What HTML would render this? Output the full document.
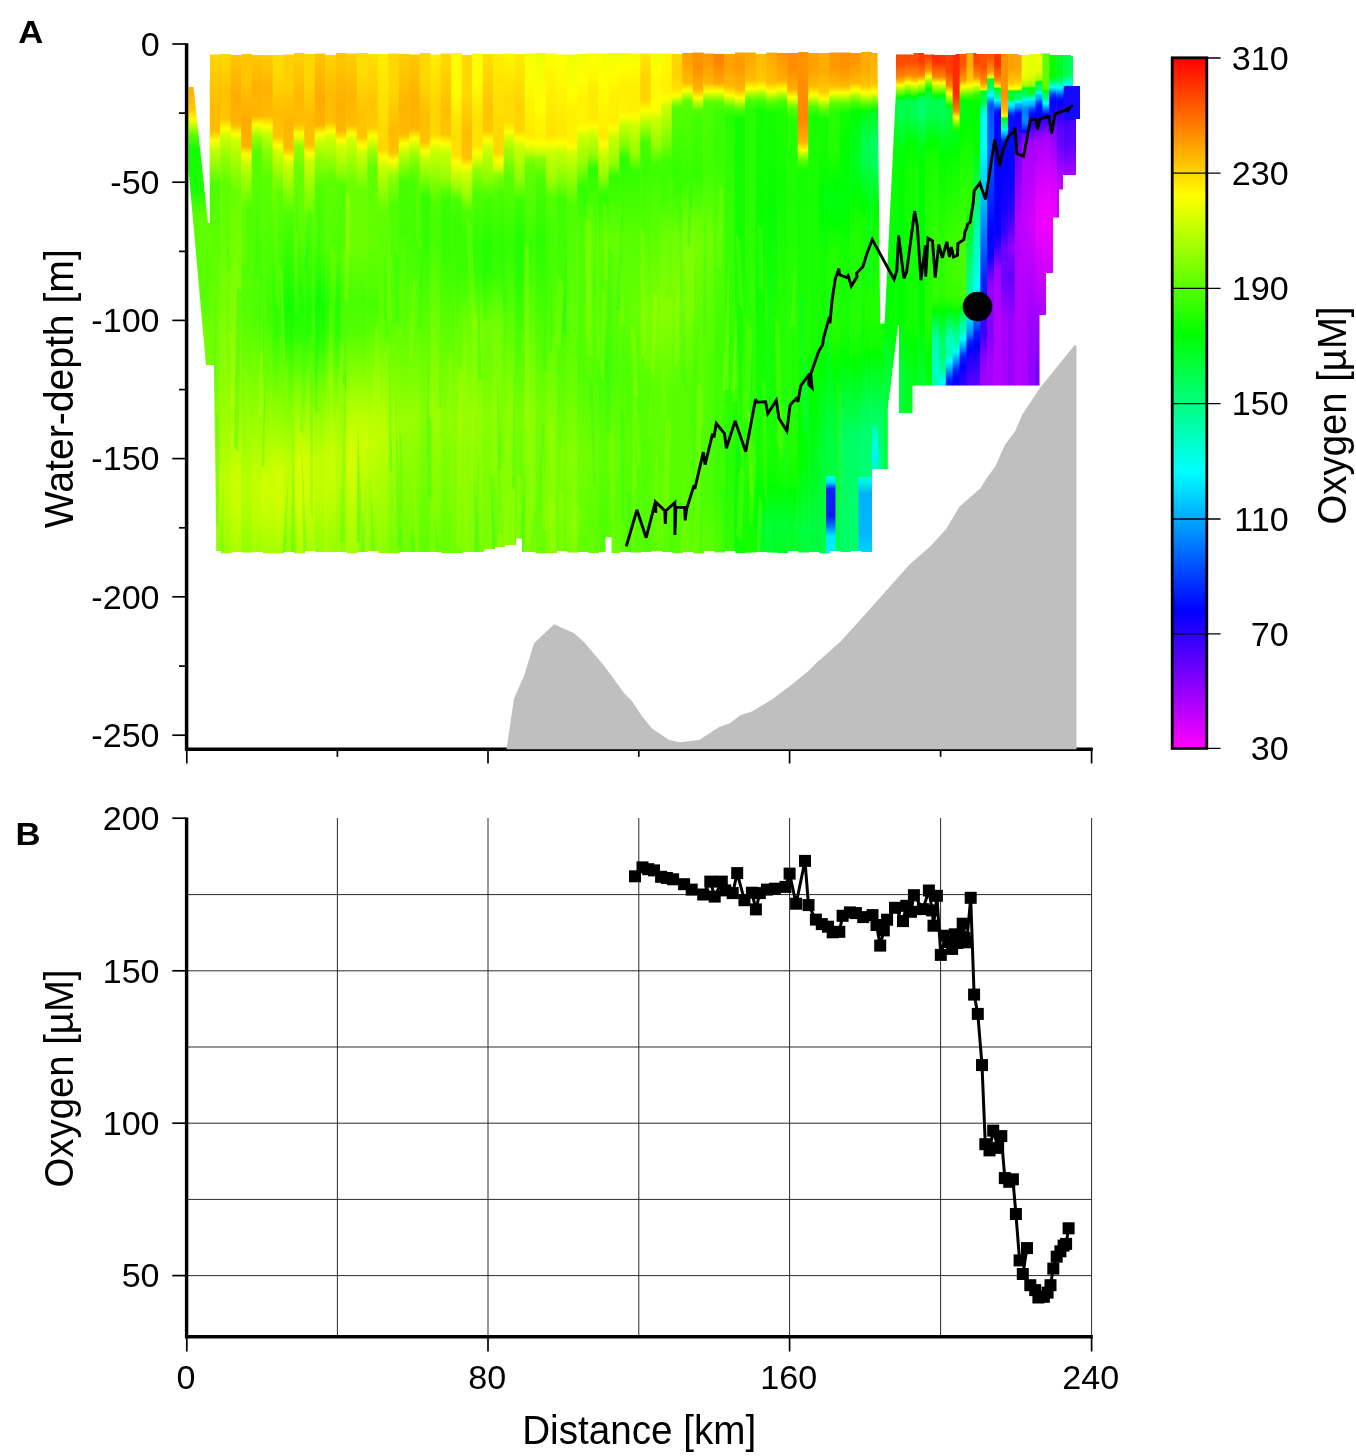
<!DOCTYPE html>
<html lang="en"><head><meta charset="utf-8"><title>Oxygen section</title>
<style>html,body{margin:0;padding:0;background:#fff;overflow:hidden}svg{display:block}text{fill:#000}</style></head>
<body>
<svg width="1356" height="1456" viewBox="0 0 1356 1456">
<defs><linearGradient id="c0" x1="0" y1="0" x2="0" y2="1"><stop offset="0.0000" stop-color="#ffd700"/><stop offset="0.1126" stop-color="#ffbb00"/><stop offset="0.1601" stop-color="#ffc000"/><stop offset="0.1793" stop-color="#ffff00"/><stop offset="0.1957" stop-color="#c9ff00"/><stop offset="0.2668" stop-color="#50ff00"/><stop offset="0.6522" stop-color="#78ff00"/><stop offset="0.8478" stop-color="#a9ff00"/><stop offset="0.9130" stop-color="#a4ff00"/><stop offset="0.9960" stop-color="#89ff00"/></linearGradient><linearGradient id="c1" x1="0" y1="0" x2="0" y2="1"><stop offset="0.0000" stop-color="#ffdd00"/><stop offset="0.0830" stop-color="#ffc100"/><stop offset="0.1364" stop-color="#ffc500"/><stop offset="0.1551" stop-color="#ffff00"/><stop offset="0.1719" stop-color="#caff00"/><stop offset="0.2194" stop-color="#8aff00"/><stop offset="0.2668" stop-color="#5cff00"/><stop offset="0.6522" stop-color="#87ff00"/><stop offset="0.8478" stop-color="#baff00"/><stop offset="0.9130" stop-color="#b5ff00"/><stop offset="0.9960" stop-color="#98ff00"/></linearGradient><linearGradient id="c2" x1="0" y1="0" x2="0" y2="1"><stop offset="0.0000" stop-color="#ffc800"/><stop offset="0.0889" stop-color="#ffad00"/><stop offset="0.1423" stop-color="#ffb200"/><stop offset="0.1482" stop-color="#ffb700"/><stop offset="0.1661" stop-color="#ffff00"/><stop offset="0.1779" stop-color="#d0ff00"/><stop offset="0.2787" stop-color="#69ff00"/><stop offset="0.6344" stop-color="#8eff00"/><stop offset="0.8478" stop-color="#caff00"/><stop offset="0.9130" stop-color="#c6ff00"/><stop offset="0.9960" stop-color="#a7ff00"/></linearGradient><linearGradient id="c3" x1="0" y1="0" x2="0" y2="1"><stop offset="0.0000" stop-color="#ffc600"/><stop offset="0.0652" stop-color="#ffc500"/><stop offset="0.1364" stop-color="#ffab00"/><stop offset="0.1897" stop-color="#ffb100"/><stop offset="0.2070" stop-color="#ffff00"/><stop offset="0.2075" stop-color="#fdff00"/><stop offset="0.2253" stop-color="#c8ff00"/><stop offset="0.3142" stop-color="#4eff00"/><stop offset="0.5336" stop-color="#56ff00"/><stop offset="0.8478" stop-color="#b4ff00"/><stop offset="0.9130" stop-color="#afff00"/><stop offset="0.9960" stop-color="#8fff00"/></linearGradient><linearGradient id="c4" x1="0" y1="0" x2="0" y2="1"><stop offset="0.0000" stop-color="#ffcb00"/><stop offset="0.0711" stop-color="#ffb100"/><stop offset="0.1304" stop-color="#ffb600"/><stop offset="0.1477" stop-color="#ffff00"/><stop offset="0.1719" stop-color="#98ff00"/><stop offset="0.2016" stop-color="#55ff00"/><stop offset="0.5277" stop-color="#4eff00"/><stop offset="0.8538" stop-color="#c6ff00"/><stop offset="0.9130" stop-color="#c1ff00"/><stop offset="0.9960" stop-color="#9eff00"/></linearGradient><linearGradient id="c5" x1="0" y1="0" x2="0" y2="1"><stop offset="0.0000" stop-color="#ffcf00"/><stop offset="0.0771" stop-color="#ffb400"/><stop offset="0.1304" stop-color="#ffb900"/><stop offset="0.1504" stop-color="#ffff00"/><stop offset="0.1660" stop-color="#c8ff00"/><stop offset="0.1957" stop-color="#91ff00"/><stop offset="0.2490" stop-color="#5aff00"/><stop offset="0.5336" stop-color="#3fff00"/><stop offset="0.8478" stop-color="#ceff00"/><stop offset="0.9071" stop-color="#c8ff00"/><stop offset="0.9960" stop-color="#a2ff00"/></linearGradient><linearGradient id="c6" x1="0" y1="0" x2="0" y2="1"><stop offset="0.0000" stop-color="#ffdb00"/><stop offset="0.0474" stop-color="#ffd900"/><stop offset="0.1245" stop-color="#ffbe00"/><stop offset="0.1719" stop-color="#ffc500"/><stop offset="0.1884" stop-color="#ffff00"/><stop offset="0.2016" stop-color="#d1ff00"/><stop offset="0.2846" stop-color="#5bff00"/><stop offset="0.5040" stop-color="#2dff00"/><stop offset="0.5692" stop-color="#3aff00"/><stop offset="0.8300" stop-color="#cfff00"/><stop offset="0.8953" stop-color="#ceff00"/><stop offset="0.9960" stop-color="#a2ff00"/></linearGradient><linearGradient id="c7" x1="0" y1="0" x2="0" y2="1"><stop offset="0.0000" stop-color="#ffd100"/><stop offset="0.0711" stop-color="#ffcf00"/><stop offset="0.1423" stop-color="#ffb500"/><stop offset="0.1897" stop-color="#ffba00"/><stop offset="0.1957" stop-color="#ffbf00"/><stop offset="0.2127" stop-color="#ffff00"/><stop offset="0.2253" stop-color="#d0ff00"/><stop offset="0.3261" stop-color="#4cff00"/><stop offset="0.5040" stop-color="#13ff00"/><stop offset="0.5632" stop-color="#1eff00"/><stop offset="0.6877" stop-color="#78ff00"/><stop offset="0.8241" stop-color="#c2ff00"/><stop offset="0.8893" stop-color="#c2ff00"/><stop offset="0.9960" stop-color="#94ff00"/></linearGradient><linearGradient id="c8" x1="0" y1="0" x2="0" y2="1"><stop offset="0.0000" stop-color="#ffd300"/><stop offset="0.0889" stop-color="#ffb800"/><stop offset="0.1423" stop-color="#ffbc00"/><stop offset="0.1482" stop-color="#ffc200"/><stop offset="0.1647" stop-color="#ffff00"/><stop offset="0.1779" stop-color="#ceff00"/><stop offset="0.1897" stop-color="#93ff00"/><stop offset="0.2372" stop-color="#67ff00"/><stop offset="0.3735" stop-color="#57ff00"/><stop offset="0.5099" stop-color="#21ff00"/><stop offset="0.5573" stop-color="#2cff00"/><stop offset="0.6818" stop-color="#8bff00"/><stop offset="0.8182" stop-color="#d7ff00"/><stop offset="0.8834" stop-color="#d6ff00"/><stop offset="0.9960" stop-color="#a8ff00"/></linearGradient><linearGradient id="c9" x1="0" y1="0" x2="0" y2="1"><stop offset="0.0000" stop-color="#ffd700"/><stop offset="0.0652" stop-color="#ffd500"/><stop offset="0.1364" stop-color="#ffbb00"/><stop offset="0.1838" stop-color="#ffbf00"/><stop offset="0.1897" stop-color="#ffc800"/><stop offset="0.2051" stop-color="#ffff00"/><stop offset="0.2194" stop-color="#ccff00"/><stop offset="0.3320" stop-color="#5dff00"/><stop offset="0.5099" stop-color="#1fff00"/><stop offset="0.5573" stop-color="#2bff00"/><stop offset="0.6759" stop-color="#87ff00"/><stop offset="0.8123" stop-color="#d1ff00"/><stop offset="0.8775" stop-color="#d1ff00"/><stop offset="0.9960" stop-color="#a3ff00"/></linearGradient><linearGradient id="c10" x1="0" y1="0" x2="0" y2="1"><stop offset="0.0000" stop-color="#ffc600"/><stop offset="0.0949" stop-color="#ffab00"/><stop offset="0.1482" stop-color="#ffb100"/><stop offset="0.1654" stop-color="#ffff00"/><stop offset="0.1660" stop-color="#fcff00"/><stop offset="0.1838" stop-color="#c7ff00"/><stop offset="0.2134" stop-color="#93ff00"/><stop offset="0.2727" stop-color="#51ff00"/><stop offset="0.3913" stop-color="#45ff00"/><stop offset="0.5040" stop-color="#15ff00"/><stop offset="0.5573" stop-color="#21ff00"/><stop offset="0.6700" stop-color="#77ff00"/><stop offset="0.8063" stop-color="#bfff00"/><stop offset="0.8715" stop-color="#beff00"/><stop offset="0.9960" stop-color="#92ff00"/></linearGradient><linearGradient id="c11" x1="0" y1="0" x2="0" y2="1"><stop offset="0.0000" stop-color="#ffd700"/><stop offset="0.0889" stop-color="#ffbb00"/><stop offset="0.1423" stop-color="#ffc000"/><stop offset="0.1598" stop-color="#ffff00"/><stop offset="0.1719" stop-color="#d3ff00"/><stop offset="0.2549" stop-color="#5dff00"/><stop offset="0.3972" stop-color="#51ff00"/><stop offset="0.5040" stop-color="#25ff00"/><stop offset="0.5573" stop-color="#32ff00"/><stop offset="0.6640" stop-color="#7fff00"/><stop offset="0.7945" stop-color="#c4ff00"/><stop offset="0.8656" stop-color="#c3ff00"/><stop offset="0.9960" stop-color="#97ff00"/></linearGradient><linearGradient id="c12" x1="0" y1="0" x2="0" y2="1"><stop offset="0.0000" stop-color="#ffca00"/><stop offset="0.1067" stop-color="#ffaf00"/><stop offset="0.1601" stop-color="#ffb500"/><stop offset="0.1790" stop-color="#ffff00"/><stop offset="0.1897" stop-color="#d5ff00"/><stop offset="0.2431" stop-color="#8eff00"/><stop offset="0.2668" stop-color="#54ff00"/><stop offset="0.3972" stop-color="#4dff00"/><stop offset="0.4980" stop-color="#24ff00"/><stop offset="0.5573" stop-color="#30ff00"/><stop offset="0.7174" stop-color="#99ff00"/><stop offset="0.7885" stop-color="#b8ff00"/><stop offset="0.8538" stop-color="#b7ff00"/><stop offset="0.9960" stop-color="#8bff00"/></linearGradient><linearGradient id="c13" x1="0" y1="0" x2="0" y2="1"><stop offset="0.0000" stop-color="#ffd100"/><stop offset="0.0949" stop-color="#ffb500"/><stop offset="0.1482" stop-color="#ffbc00"/><stop offset="0.1659" stop-color="#ffff00"/><stop offset="0.1779" stop-color="#d2ff00"/><stop offset="0.2609" stop-color="#6cff00"/><stop offset="0.3913" stop-color="#6dff00"/><stop offset="0.4980" stop-color="#46ff00"/><stop offset="0.5573" stop-color="#52ff00"/><stop offset="0.7174" stop-color="#b7ff00"/><stop offset="0.7826" stop-color="#d2ff00"/><stop offset="0.8419" stop-color="#cfff00"/><stop offset="0.9960" stop-color="#a3ff00"/></linearGradient><linearGradient id="c14" x1="0" y1="0" x2="0" y2="1"><stop offset="0.0000" stop-color="#ffde00"/><stop offset="0.0474" stop-color="#ffdd00"/><stop offset="0.1245" stop-color="#ffc200"/><stop offset="0.1719" stop-color="#ffc700"/><stop offset="0.1884" stop-color="#ffff00"/><stop offset="0.2016" stop-color="#d2ff00"/><stop offset="0.2787" stop-color="#69ff00"/><stop offset="0.3854" stop-color="#6cff00"/><stop offset="0.4980" stop-color="#47ff00"/><stop offset="0.5573" stop-color="#54ff00"/><stop offset="0.7174" stop-color="#b6ff00"/><stop offset="0.7767" stop-color="#ccff00"/><stop offset="0.9960" stop-color="#9cff00"/></linearGradient><linearGradient id="c15" x1="0" y1="0" x2="0" y2="1"><stop offset="0.0000" stop-color="#ffe200"/><stop offset="0.1008" stop-color="#ffc600"/><stop offset="0.1482" stop-color="#ffc900"/><stop offset="0.1542" stop-color="#ffce00"/><stop offset="0.1693" stop-color="#ffff00"/><stop offset="0.2016" stop-color="#98ff00"/><stop offset="0.2372" stop-color="#5fff00"/><stop offset="0.3794" stop-color="#63ff00"/><stop offset="0.5158" stop-color="#47ff00"/><stop offset="0.7233" stop-color="#b3ff00"/><stop offset="0.7767" stop-color="#c1ff00"/><stop offset="0.9960" stop-color="#90ff00"/></linearGradient><linearGradient id="c16" x1="0" y1="0" x2="0" y2="1"><stop offset="0.0000" stop-color="#fff000"/><stop offset="0.1957" stop-color="#ffd500"/><stop offset="0.2114" stop-color="#ffff00"/><stop offset="0.2312" stop-color="#caff00"/><stop offset="0.3202" stop-color="#60ff00"/><stop offset="0.5217" stop-color="#55ff00"/><stop offset="0.7115" stop-color="#afff00"/><stop offset="0.7648" stop-color="#bcff00"/><stop offset="0.9960" stop-color="#8cff00"/></linearGradient><linearGradient id="c17" x1="0" y1="0" x2="0" y2="1"><stop offset="0.0000" stop-color="#ffd800"/><stop offset="0.0771" stop-color="#ffd700"/><stop offset="0.1542" stop-color="#ffbc00"/><stop offset="0.2016" stop-color="#ffc100"/><stop offset="0.2186" stop-color="#ffff00"/><stop offset="0.2490" stop-color="#90ff00"/><stop offset="0.3083" stop-color="#4eff00"/><stop offset="0.5336" stop-color="#56ff00"/><stop offset="0.7470" stop-color="#a7ff00"/><stop offset="0.9960" stop-color="#79ff00"/></linearGradient><linearGradient id="c18" x1="0" y1="0" x2="0" y2="1"><stop offset="0.0000" stop-color="#ffd000"/><stop offset="0.1126" stop-color="#ffb500"/><stop offset="0.1660" stop-color="#ffba00"/><stop offset="0.1853" stop-color="#ffff00"/><stop offset="0.2016" stop-color="#c5ff00"/><stop offset="0.2609" stop-color="#46ff00"/><stop offset="0.3735" stop-color="#41ff00"/><stop offset="0.5455" stop-color="#5aff00"/><stop offset="0.7352" stop-color="#99ff00"/><stop offset="0.9960" stop-color="#6dff00"/></linearGradient><linearGradient id="c19" x1="0" y1="0" x2="0" y2="1"><stop offset="0.0000" stop-color="#ffcb00"/><stop offset="0.1008" stop-color="#ffb000"/><stop offset="0.1542" stop-color="#ffb500"/><stop offset="0.1601" stop-color="#ffc100"/><stop offset="0.1745" stop-color="#ffff00"/><stop offset="0.1779" stop-color="#f1ff00"/><stop offset="0.2075" stop-color="#99ff00"/><stop offset="0.2549" stop-color="#48ff00"/><stop offset="0.3735" stop-color="#41ff00"/><stop offset="0.5751" stop-color="#67ff00"/><stop offset="0.7233" stop-color="#96ff00"/><stop offset="0.9960" stop-color="#6cff00"/></linearGradient><linearGradient id="c20" x1="0" y1="0" x2="0" y2="1"><stop offset="0.0000" stop-color="#ffd900"/><stop offset="0.0593" stop-color="#ffd700"/><stop offset="0.1304" stop-color="#ffbd00"/><stop offset="0.1779" stop-color="#ffc100"/><stop offset="0.1838" stop-color="#ffca00"/><stop offset="0.1990" stop-color="#ffff00"/><stop offset="0.2134" stop-color="#ccff00"/><stop offset="0.2905" stop-color="#35ff00"/><stop offset="0.3735" stop-color="#32ff00"/><stop offset="0.7233" stop-color="#85ff00"/><stop offset="0.9960" stop-color="#5eff00"/></linearGradient><linearGradient id="c21" x1="0" y1="0" x2="0" y2="1"><stop offset="0.0000" stop-color="#fff200"/><stop offset="0.1186" stop-color="#ffd400"/><stop offset="0.1660" stop-color="#ffd700"/><stop offset="0.1810" stop-color="#ffff00"/><stop offset="0.2016" stop-color="#c8ff00"/><stop offset="0.3083" stop-color="#49ff00"/><stop offset="0.3794" stop-color="#48ff00"/><stop offset="0.7233" stop-color="#9bff00"/><stop offset="0.9960" stop-color="#76ff00"/></linearGradient><linearGradient id="c22" x1="0" y1="0" x2="0" y2="1"><stop offset="0.0000" stop-color="#ffdb00"/><stop offset="0.1186" stop-color="#ffbf00"/><stop offset="0.1660" stop-color="#ffc300"/><stop offset="0.1848" stop-color="#ffff00"/><stop offset="0.2016" stop-color="#caff00"/><stop offset="0.2549" stop-color="#95ff00"/><stop offset="0.2846" stop-color="#47ff00"/><stop offset="0.3024" stop-color="#39ff00"/><stop offset="0.4032" stop-color="#37ff00"/><stop offset="0.7292" stop-color="#88ff00"/><stop offset="0.9960" stop-color="#67ff00"/></linearGradient><linearGradient id="c23" x1="0" y1="0" x2="0" y2="1"><stop offset="0.0000" stop-color="#fffd00"/><stop offset="0.0830" stop-color="#fffc00"/><stop offset="0.1601" stop-color="#ffdf00"/><stop offset="0.2075" stop-color="#ffe000"/><stop offset="0.2220" stop-color="#ffff00"/><stop offset="0.2727" stop-color="#92ff00"/><stop offset="0.2964" stop-color="#47ff00"/><stop offset="0.3439" stop-color="#36ff00"/><stop offset="0.4387" stop-color="#3aff00"/><stop offset="0.7292" stop-color="#8cff00"/><stop offset="0.9960" stop-color="#6fff00"/></linearGradient><linearGradient id="c24" x1="0" y1="0" x2="0" y2="1"><stop offset="0.0000" stop-color="#ffd900"/><stop offset="0.0889" stop-color="#ffd800"/><stop offset="0.1660" stop-color="#ffbd00"/><stop offset="0.2134" stop-color="#ffc200"/><stop offset="0.2306" stop-color="#ffff00"/><stop offset="0.2431" stop-color="#d3ff00"/><stop offset="0.2905" stop-color="#93ff00"/><stop offset="0.3202" stop-color="#4cff00"/><stop offset="0.3676" stop-color="#3aff00"/><stop offset="0.4328" stop-color="#3bff00"/><stop offset="0.5395" stop-color="#6bff00"/><stop offset="0.7233" stop-color="#96ff00"/><stop offset="0.9960" stop-color="#7dff00"/></linearGradient><linearGradient id="c25" x1="0" y1="0" x2="0" y2="1"><stop offset="0.0000" stop-color="#fffe00"/><stop offset="0.0652" stop-color="#fffd00"/><stop offset="0.1423" stop-color="#ffe000"/><stop offset="0.1897" stop-color="#ffe400"/><stop offset="0.2024" stop-color="#ffff00"/><stop offset="0.2075" stop-color="#f4ff00"/><stop offset="0.2372" stop-color="#92ff00"/><stop offset="0.2846" stop-color="#4dff00"/><stop offset="0.3854" stop-color="#31ff00"/><stop offset="0.4447" stop-color="#39ff00"/><stop offset="0.5395" stop-color="#75ff00"/><stop offset="0.6166" stop-color="#76ff00"/><stop offset="0.7174" stop-color="#92ff00"/><stop offset="0.9960" stop-color="#7dff00"/></linearGradient><linearGradient id="c26" x1="0" y1="0" x2="0" y2="1"><stop offset="0.0000" stop-color="#ffe200"/><stop offset="0.1126" stop-color="#ffc500"/><stop offset="0.1601" stop-color="#ffc900"/><stop offset="0.1782" stop-color="#ffff00"/><stop offset="0.1957" stop-color="#cbff00"/><stop offset="0.2490" stop-color="#91ff00"/><stop offset="0.2905" stop-color="#47ff00"/><stop offset="0.3794" stop-color="#27ff00"/><stop offset="0.4387" stop-color="#2dff00"/><stop offset="0.5395" stop-color="#6fff00"/><stop offset="0.6166" stop-color="#6dff00"/><stop offset="0.7174" stop-color="#86ff00"/><stop offset="0.9960" stop-color="#75ff00"/></linearGradient><linearGradient id="c27" x1="0" y1="0" x2="0" y2="1"><stop offset="0.0000" stop-color="#ffee00"/><stop offset="0.2016" stop-color="#ffd400"/><stop offset="0.2179" stop-color="#ffff00"/><stop offset="0.2312" stop-color="#dcff00"/><stop offset="0.2490" stop-color="#89ff00"/><stop offset="0.2787" stop-color="#51ff00"/><stop offset="0.3794" stop-color="#31ff00"/><stop offset="0.4387" stop-color="#37ff00"/><stop offset="0.5395" stop-color="#70ff00"/><stop offset="0.7115" stop-color="#8dff00"/><stop offset="0.9960" stop-color="#7fff00"/></linearGradient><linearGradient id="c28" x1="0" y1="0" x2="0" y2="1"><stop offset="0.0000" stop-color="#fff900"/><stop offset="0.0949" stop-color="#ffdc00"/><stop offset="0.1423" stop-color="#ffdd00"/><stop offset="0.1601" stop-color="#fffc00"/><stop offset="0.1609" stop-color="#ffff00"/><stop offset="0.1779" stop-color="#caff00"/><stop offset="0.2016" stop-color="#99ff00"/><stop offset="0.2490" stop-color="#5aff00"/><stop offset="0.3854" stop-color="#33ff00"/><stop offset="0.7115" stop-color="#8cff00"/><stop offset="0.9960" stop-color="#80ff00"/></linearGradient><linearGradient id="c29" x1="0" y1="0" x2="0" y2="1"><stop offset="0.0000" stop-color="#ffef00"/><stop offset="0.1126" stop-color="#ffd200"/><stop offset="0.1601" stop-color="#ffd700"/><stop offset="0.1738" stop-color="#ffff00"/><stop offset="0.1897" stop-color="#d0ff00"/><stop offset="0.2549" stop-color="#8eff00"/><stop offset="0.2964" stop-color="#40ff00"/><stop offset="0.3794" stop-color="#22ff00"/><stop offset="0.4328" stop-color="#25ff00"/><stop offset="0.7174" stop-color="#77ff00"/><stop offset="0.9960" stop-color="#6bff00"/></linearGradient><linearGradient id="c30" x1="0" y1="0" x2="0" y2="1"><stop offset="0.0000" stop-color="#f6ff00"/><stop offset="0.0476" stop-color="#ffff00"/><stop offset="0.1660" stop-color="#ffe900"/><stop offset="0.1838" stop-color="#ffff00"/><stop offset="0.1839" stop-color="#ffff00"/><stop offset="0.1957" stop-color="#daff00"/><stop offset="0.2134" stop-color="#89ff00"/><stop offset="0.2312" stop-color="#63ff00"/><stop offset="0.3854" stop-color="#3dff00"/><stop offset="0.7174" stop-color="#8dff00"/><stop offset="0.9960" stop-color="#81ff00"/></linearGradient><linearGradient id="c31" x1="0" y1="0" x2="0" y2="1"><stop offset="0.0000" stop-color="#ecff00"/><stop offset="0.1046" stop-color="#ffff00"/><stop offset="0.1719" stop-color="#fff300"/><stop offset="0.1813" stop-color="#ffff00"/><stop offset="0.1897" stop-color="#f4ff00"/><stop offset="0.2016" stop-color="#ceff00"/><stop offset="0.2134" stop-color="#8dff00"/><stop offset="0.2549" stop-color="#48ff00"/><stop offset="0.3794" stop-color="#2aff00"/><stop offset="0.7233" stop-color="#74ff00"/><stop offset="0.9960" stop-color="#69ff00"/></linearGradient><linearGradient id="c32" x1="0" y1="0" x2="0" y2="1"><stop offset="0.0000" stop-color="#feff00"/><stop offset="0.0058" stop-color="#ffff00"/><stop offset="0.1660" stop-color="#ffe300"/><stop offset="0.1838" stop-color="#fffc00"/><stop offset="0.1847" stop-color="#ffff00"/><stop offset="0.2016" stop-color="#ccff00"/><stop offset="0.2609" stop-color="#94ff00"/><stop offset="0.2905" stop-color="#54ff00"/><stop offset="0.3676" stop-color="#46ff00"/><stop offset="0.4447" stop-color="#49ff00"/><stop offset="0.7530" stop-color="#88ff00"/><stop offset="0.9960" stop-color="#7aff00"/></linearGradient><linearGradient id="c33" x1="0" y1="0" x2="0" y2="1"><stop offset="0.0000" stop-color="#fbff00"/><stop offset="0.0242" stop-color="#ffff00"/><stop offset="0.1660" stop-color="#ffe600"/><stop offset="0.1817" stop-color="#ffff00"/><stop offset="0.1838" stop-color="#fcff00"/><stop offset="0.2016" stop-color="#c8ff00"/><stop offset="0.2490" stop-color="#8eff00"/><stop offset="0.2964" stop-color="#3eff00"/><stop offset="0.5217" stop-color="#48ff00"/><stop offset="0.8063" stop-color="#78ff00"/><stop offset="0.9960" stop-color="#65ff00"/></linearGradient><linearGradient id="c34" x1="0" y1="0" x2="0" y2="1"><stop offset="0.0000" stop-color="#f0ff00"/><stop offset="0.0534" stop-color="#f2ff00"/><stop offset="0.0889" stop-color="#ffff00"/><stop offset="0.1304" stop-color="#ffef00"/><stop offset="0.1779" stop-color="#fff200"/><stop offset="0.1897" stop-color="#fffe00"/><stop offset="0.1902" stop-color="#ffff00"/><stop offset="0.2075" stop-color="#cbff00"/><stop offset="0.3083" stop-color="#4cff00"/><stop offset="0.6107" stop-color="#62ff00"/><stop offset="0.8063" stop-color="#85ff00"/><stop offset="0.9960" stop-color="#71ff00"/></linearGradient><linearGradient id="c35" x1="0" y1="0" x2="0" y2="1"><stop offset="0.0000" stop-color="#ecff00"/><stop offset="0.0591" stop-color="#ffff00"/><stop offset="0.0949" stop-color="#fff300"/><stop offset="0.1423" stop-color="#fff400"/><stop offset="0.1542" stop-color="#fffd00"/><stop offset="0.1548" stop-color="#ffff00"/><stop offset="0.1719" stop-color="#ceff00"/><stop offset="0.2253" stop-color="#93ff00"/><stop offset="0.2727" stop-color="#32ff00"/><stop offset="0.3794" stop-color="#55ff00"/><stop offset="0.6285" stop-color="#4fff00"/><stop offset="0.8004" stop-color="#71ff00"/><stop offset="0.9960" stop-color="#60ff00"/></linearGradient><linearGradient id="c36" x1="0" y1="0" x2="0" y2="1"><stop offset="0.0000" stop-color="#f6ff00"/><stop offset="0.0275" stop-color="#ffff00"/><stop offset="0.0889" stop-color="#ffea00"/><stop offset="0.1364" stop-color="#ffeb00"/><stop offset="0.1482" stop-color="#fffb00"/><stop offset="0.1498" stop-color="#ffff00"/><stop offset="0.1719" stop-color="#c5ff00"/><stop offset="0.2075" stop-color="#92ff00"/><stop offset="0.2312" stop-color="#39ff00"/><stop offset="0.2372" stop-color="#2fff00"/><stop offset="0.3794" stop-color="#61ff00"/><stop offset="0.6285" stop-color="#4eff00"/><stop offset="0.8004" stop-color="#70ff00"/><stop offset="0.9427" stop-color="#5cff00"/><stop offset="0.9960" stop-color="#63ff00"/></linearGradient><linearGradient id="c37" x1="0" y1="0" x2="0" y2="1"><stop offset="0.0000" stop-color="#f4ff00"/><stop offset="0.0618" stop-color="#ffff00"/><stop offset="0.1719" stop-color="#ffec00"/><stop offset="0.1843" stop-color="#ffff00"/><stop offset="0.1897" stop-color="#f7ff00"/><stop offset="0.2075" stop-color="#c6ff00"/><stop offset="0.2490" stop-color="#93ff00"/><stop offset="0.2846" stop-color="#34ff00"/><stop offset="0.2905" stop-color="#31ff00"/><stop offset="0.3794" stop-color="#5aff00"/><stop offset="0.6285" stop-color="#41ff00"/><stop offset="0.7945" stop-color="#60ff00"/><stop offset="0.9368" stop-color="#4eff00"/><stop offset="0.9960" stop-color="#57ff00"/></linearGradient><linearGradient id="c38" x1="0" y1="0" x2="0" y2="1"><stop offset="0.0000" stop-color="#f0ff00"/><stop offset="0.0468" stop-color="#ffff00"/><stop offset="0.0949" stop-color="#ffef00"/><stop offset="0.1423" stop-color="#fff200"/><stop offset="0.1542" stop-color="#fffd00"/><stop offset="0.1547" stop-color="#ffff00"/><stop offset="0.1719" stop-color="#ccff00"/><stop offset="0.2253" stop-color="#91ff00"/><stop offset="0.2490" stop-color="#36ff00"/><stop offset="0.2549" stop-color="#31ff00"/><stop offset="0.3735" stop-color="#64ff00"/><stop offset="0.6344" stop-color="#4eff00"/><stop offset="0.7885" stop-color="#66ff00"/><stop offset="0.9308" stop-color="#58ff00"/><stop offset="0.9960" stop-color="#62ff00"/></linearGradient><linearGradient id="c39" x1="0" y1="0" x2="0" y2="1"><stop offset="0.0000" stop-color="#f2ff00"/><stop offset="0.0327" stop-color="#ffff00"/><stop offset="0.0711" stop-color="#fff000"/><stop offset="0.1186" stop-color="#fff400"/><stop offset="0.1304" stop-color="#ffff00"/><stop offset="0.1305" stop-color="#ffff00"/><stop offset="0.1482" stop-color="#c9ff00"/><stop offset="0.1838" stop-color="#89ff00"/><stop offset="0.2134" stop-color="#34ff00"/><stop offset="0.2312" stop-color="#30ff00"/><stop offset="0.3794" stop-color="#5cff00"/><stop offset="0.5277" stop-color="#5dff00"/><stop offset="0.6403" stop-color="#4dff00"/><stop offset="0.7885" stop-color="#5dff00"/><stop offset="0.9960" stop-color="#5aff00"/></linearGradient><linearGradient id="c40" x1="0" y1="0" x2="0" y2="1"><stop offset="0.0000" stop-color="#f3ff00"/><stop offset="0.0301" stop-color="#ffff00"/><stop offset="0.0711" stop-color="#ffef00"/><stop offset="0.1186" stop-color="#fff000"/><stop offset="0.1304" stop-color="#fffd00"/><stop offset="0.1313" stop-color="#ffff00"/><stop offset="0.1482" stop-color="#ceff00"/><stop offset="0.2075" stop-color="#91ff00"/><stop offset="0.2372" stop-color="#38ff00"/><stop offset="0.2431" stop-color="#34ff00"/><stop offset="0.3557" stop-color="#54ff00"/><stop offset="0.5158" stop-color="#66ff00"/><stop offset="0.6522" stop-color="#51ff00"/><stop offset="0.9960" stop-color="#56ff00"/></linearGradient><linearGradient id="c41" x1="0" y1="0" x2="0" y2="1"><stop offset="0.0000" stop-color="#ffe900"/><stop offset="0.0534" stop-color="#ffd400"/><stop offset="0.1008" stop-color="#ffd600"/><stop offset="0.1186" stop-color="#fffd00"/><stop offset="0.1193" stop-color="#ffff00"/><stop offset="0.1838" stop-color="#44ff00"/><stop offset="0.2312" stop-color="#38ff00"/><stop offset="0.5277" stop-color="#70ff00"/><stop offset="0.6700" stop-color="#53ff00"/><stop offset="0.9960" stop-color="#52ff00"/></linearGradient><linearGradient id="c42" x1="0" y1="0" x2="0" y2="1"><stop offset="0.0000" stop-color="#eeff00"/><stop offset="0.0443" stop-color="#ffff00"/><stop offset="0.0652" stop-color="#fff700"/><stop offset="0.1109" stop-color="#ffff00"/><stop offset="0.1186" stop-color="#feff00"/><stop offset="0.1364" stop-color="#caff00"/><stop offset="0.1897" stop-color="#92ff00"/><stop offset="0.2253" stop-color="#42ff00"/><stop offset="0.2431" stop-color="#3eff00"/><stop offset="0.5277" stop-color="#81ff00"/><stop offset="0.6759" stop-color="#5cff00"/><stop offset="0.9960" stop-color="#58ff00"/></linearGradient><linearGradient id="c43" x1="0" y1="0" x2="0" y2="1"><stop offset="0.0000" stop-color="#fffc00"/><stop offset="0.0830" stop-color="#fff100"/><stop offset="0.0949" stop-color="#fffd00"/><stop offset="0.0955" stop-color="#ffff00"/><stop offset="0.1126" stop-color="#ccff00"/><stop offset="0.1838" stop-color="#79ff00"/><stop offset="0.2194" stop-color="#41ff00"/><stop offset="0.2431" stop-color="#3bff00"/><stop offset="0.2787" stop-color="#3dff00"/><stop offset="0.3676" stop-color="#69ff00"/><stop offset="0.5217" stop-color="#86ff00"/><stop offset="0.6759" stop-color="#5cff00"/><stop offset="0.9960" stop-color="#58ff00"/></linearGradient><linearGradient id="c44" x1="0" y1="0" x2="0" y2="1"><stop offset="0.0000" stop-color="#ffd700"/><stop offset="0.0474" stop-color="#ffd300"/><stop offset="0.0771" stop-color="#ffe100"/><stop offset="0.0889" stop-color="#fffb00"/><stop offset="0.0895" stop-color="#ffff00"/><stop offset="0.1126" stop-color="#55ff00"/><stop offset="0.2372" stop-color="#34ff00"/><stop offset="0.2787" stop-color="#39ff00"/><stop offset="0.3676" stop-color="#71ff00"/><stop offset="0.5040" stop-color="#7eff00"/><stop offset="0.6759" stop-color="#55ff00"/><stop offset="0.9960" stop-color="#54ff00"/></linearGradient><linearGradient id="c45" x1="0" y1="0" x2="0" y2="1"><stop offset="0.0000" stop-color="#ffa200"/><stop offset="0.0237" stop-color="#ffa200"/><stop offset="0.0652" stop-color="#ffbb00"/><stop offset="0.0794" stop-color="#ffff00"/><stop offset="0.0830" stop-color="#eeff00"/><stop offset="0.1008" stop-color="#62ff00"/><stop offset="0.1186" stop-color="#50ff00"/><stop offset="0.2549" stop-color="#37ff00"/><stop offset="0.3498" stop-color="#74ff00"/><stop offset="0.3972" stop-color="#7fff00"/><stop offset="0.5217" stop-color="#77ff00"/><stop offset="0.6640" stop-color="#55ff00"/><stop offset="0.9960" stop-color="#59ff00"/></linearGradient><linearGradient id="c46" x1="0" y1="0" x2="0" y2="1"><stop offset="0.0000" stop-color="#ff9600"/><stop offset="0.0356" stop-color="#ff8f00"/><stop offset="0.0771" stop-color="#ffb000"/><stop offset="0.0949" stop-color="#fffc00"/><stop offset="0.0953" stop-color="#ffff00"/><stop offset="0.1186" stop-color="#54ff00"/><stop offset="0.1364" stop-color="#42ff00"/><stop offset="0.2490" stop-color="#34ff00"/><stop offset="0.3439" stop-color="#69ff00"/><stop offset="0.3854" stop-color="#73ff00"/><stop offset="0.6462" stop-color="#4aff00"/><stop offset="0.8775" stop-color="#46ff00"/><stop offset="0.9960" stop-color="#53ff00"/></linearGradient><linearGradient id="c47" x1="0" y1="0" x2="0" y2="1"><stop offset="0.0000" stop-color="#ff9a00"/><stop offset="0.0237" stop-color="#ff9900"/><stop offset="0.0652" stop-color="#ffb500"/><stop offset="0.0807" stop-color="#ffff00"/><stop offset="0.0830" stop-color="#f4ff00"/><stop offset="0.1008" stop-color="#69ff00"/><stop offset="0.1067" stop-color="#53ff00"/><stop offset="0.1245" stop-color="#49ff00"/><stop offset="0.2372" stop-color="#42ff00"/><stop offset="0.3735" stop-color="#70ff00"/><stop offset="0.6166" stop-color="#4fff00"/><stop offset="0.8775" stop-color="#4bff00"/><stop offset="0.9960" stop-color="#5eff00"/></linearGradient><linearGradient id="c48" x1="0" y1="0" x2="0" y2="1"><stop offset="0.0000" stop-color="#ff8400"/><stop offset="0.0237" stop-color="#ff8400"/><stop offset="0.0652" stop-color="#ffa700"/><stop offset="0.0808" stop-color="#ffff00"/><stop offset="0.0830" stop-color="#f3ff00"/><stop offset="0.1008" stop-color="#68ff00"/><stop offset="0.1067" stop-color="#50ff00"/><stop offset="0.1245" stop-color="#3bff00"/><stop offset="0.2134" stop-color="#37ff00"/><stop offset="0.3617" stop-color="#56ff00"/><stop offset="0.5810" stop-color="#41ff00"/><stop offset="0.8656" stop-color="#3dff00"/><stop offset="0.9960" stop-color="#51ff00"/></linearGradient><linearGradient id="c49" x1="0" y1="0" x2="0" y2="1"><stop offset="0.0000" stop-color="#ffa400"/><stop offset="0.0356" stop-color="#ffa200"/><stop offset="0.0711" stop-color="#ffba00"/><stop offset="0.0889" stop-color="#fffc00"/><stop offset="0.0893" stop-color="#ffff00"/><stop offset="0.1126" stop-color="#52ff00"/><stop offset="0.1304" stop-color="#26ff00"/><stop offset="0.3439" stop-color="#37ff00"/><stop offset="0.8715" stop-color="#28ff00"/><stop offset="0.9960" stop-color="#36ff00"/></linearGradient><linearGradient id="c50" x1="0" y1="0" x2="0" y2="1"><stop offset="0.0000" stop-color="#ffa000"/><stop offset="0.0356" stop-color="#ff9900"/><stop offset="0.0771" stop-color="#ffb700"/><stop offset="0.0943" stop-color="#ffff00"/><stop offset="0.0949" stop-color="#fdff00"/><stop offset="0.1186" stop-color="#4cff00"/><stop offset="0.1364" stop-color="#0eff00"/><stop offset="0.7055" stop-color="#1bff00"/><stop offset="0.9960" stop-color="#11ff00"/></linearGradient><linearGradient id="c51" x1="0" y1="0" x2="0" y2="1"><stop offset="0.0000" stop-color="#ffa500"/><stop offset="0.0593" stop-color="#ffbb00"/><stop offset="0.0756" stop-color="#ffff00"/><stop offset="0.0771" stop-color="#f9ff00"/><stop offset="0.0949" stop-color="#6eff00"/><stop offset="0.1008" stop-color="#4eff00"/><stop offset="0.1186" stop-color="#27ff00"/><stop offset="0.7233" stop-color="#30ff00"/><stop offset="0.9368" stop-color="#0fff00"/><stop offset="0.9960" stop-color="#15ff00"/></linearGradient><linearGradient id="c52" x1="0" y1="0" x2="0" y2="1"><stop offset="0.0000" stop-color="#ffb600"/><stop offset="0.0593" stop-color="#ffc700"/><stop offset="0.0737" stop-color="#ffff00"/><stop offset="0.0771" stop-color="#f2ff00"/><stop offset="0.0949" stop-color="#67ff00"/><stop offset="0.1008" stop-color="#48ff00"/><stop offset="0.1186" stop-color="#14ff00"/><stop offset="0.3083" stop-color="#09ff00"/><stop offset="0.7708" stop-color="#1aff00"/><stop offset="0.8419" stop-color="#0fff00"/><stop offset="0.8768" stop-color="#00ff00"/><stop offset="0.9427" stop-color="#00ff1d"/><stop offset="0.9960" stop-color="#00ff14"/></linearGradient><linearGradient id="c53" x1="0" y1="0" x2="0" y2="1"><stop offset="0.0000" stop-color="#ffa900"/><stop offset="0.0652" stop-color="#ffbe00"/><stop offset="0.0805" stop-color="#ffff00"/><stop offset="0.0830" stop-color="#f4ff00"/><stop offset="0.1008" stop-color="#69ff00"/><stop offset="0.1067" stop-color="#49ff00"/><stop offset="0.1245" stop-color="#13ff00"/><stop offset="0.3024" stop-color="#05ff00"/><stop offset="0.5336" stop-color="#17ff00"/><stop offset="0.7826" stop-color="#18ff00"/><stop offset="0.8478" stop-color="#09ff00"/><stop offset="0.8631" stop-color="#00ff00"/><stop offset="0.9427" stop-color="#00ff31"/><stop offset="0.9960" stop-color="#00ff27"/></linearGradient><linearGradient id="c54" x1="0" y1="0" x2="0" y2="1"><stop offset="0.0000" stop-color="#ff9100"/><stop offset="0.0593" stop-color="#ffad00"/><stop offset="0.0771" stop-color="#fffd00"/><stop offset="0.0773" stop-color="#ffff00"/><stop offset="0.1008" stop-color="#50ff00"/><stop offset="0.1186" stop-color="#1fff00"/><stop offset="0.2964" stop-color="#10ff00"/><stop offset="0.5395" stop-color="#22ff00"/><stop offset="0.7826" stop-color="#22ff00"/><stop offset="0.8478" stop-color="#12ff00"/><stop offset="0.8736" stop-color="#00ff00"/><stop offset="0.9427" stop-color="#00ff30"/><stop offset="0.9960" stop-color="#00ff24"/></linearGradient><linearGradient id="c55" x1="0" y1="0" x2="0" y2="1"><stop offset="0.0000" stop-color="#ff9100"/><stop offset="0.0356" stop-color="#ff8c00"/><stop offset="0.0771" stop-color="#ffae00"/><stop offset="0.0931" stop-color="#ffff00"/><stop offset="0.0949" stop-color="#f6ff00"/><stop offset="0.1126" stop-color="#6bff00"/><stop offset="0.1186" stop-color="#4dff00"/><stop offset="0.1364" stop-color="#24ff00"/><stop offset="0.2905" stop-color="#1aff00"/><stop offset="0.5514" stop-color="#29ff00"/><stop offset="0.7826" stop-color="#20ff00"/><stop offset="0.8478" stop-color="#10ff00"/><stop offset="0.8725" stop-color="#00ff00"/><stop offset="0.9427" stop-color="#00ff2e"/><stop offset="0.9960" stop-color="#00ff23"/></linearGradient><linearGradient id="c56" x1="0" y1="0" x2="0" y2="1"><stop offset="0.0000" stop-color="#ff9500"/><stop offset="0.1364" stop-color="#ff8900"/><stop offset="0.1779" stop-color="#ffae00"/><stop offset="0.1838" stop-color="#ffbc00"/><stop offset="0.1957" stop-color="#fff500"/><stop offset="0.1969" stop-color="#ffff00"/><stop offset="0.2194" stop-color="#55ff00"/><stop offset="0.2372" stop-color="#14ff00"/><stop offset="0.5988" stop-color="#19ff00"/><stop offset="0.7936" stop-color="#00ff00"/><stop offset="0.8300" stop-color="#00ff05"/><stop offset="0.9486" stop-color="#00ff3e"/><stop offset="0.9960" stop-color="#00ff34"/></linearGradient><linearGradient id="c57" x1="0" y1="0" x2="0" y2="1"><stop offset="0.0000" stop-color="#ffa200"/><stop offset="0.0296" stop-color="#ff9e00"/><stop offset="0.0711" stop-color="#ffb900"/><stop offset="0.0886" stop-color="#ffff00"/><stop offset="0.0889" stop-color="#feff00"/><stop offset="0.1126" stop-color="#4eff00"/><stop offset="0.1304" stop-color="#18ff00"/><stop offset="0.5632" stop-color="#19ff00"/><stop offset="0.6898" stop-color="#00ff00"/><stop offset="0.8419" stop-color="#00ff1e"/><stop offset="0.9427" stop-color="#00ff42"/><stop offset="0.9960" stop-color="#00ff3c"/></linearGradient><linearGradient id="c58" x1="0" y1="0" x2="0" y2="1"><stop offset="0.0000" stop-color="#ffb100"/><stop offset="0.0415" stop-color="#ffab00"/><stop offset="0.0830" stop-color="#ffcd00"/><stop offset="0.0949" stop-color="#fff900"/><stop offset="0.0957" stop-color="#ffff00"/><stop offset="0.1186" stop-color="#54ff00"/><stop offset="0.1364" stop-color="#17ff00"/><stop offset="0.2075" stop-color="#14ff00"/><stop offset="0.2710" stop-color="#00ff00"/><stop offset="0.2964" stop-color="#00ff08"/><stop offset="0.3270" stop-color="#00ff00"/><stop offset="0.4091" stop-color="#16ff00"/><stop offset="0.5573" stop-color="#17ff00"/><stop offset="0.6232" stop-color="#00ff00"/><stop offset="0.7589" stop-color="#00ff2f"/><stop offset="0.9960" stop-color="#00ff47"/></linearGradient><linearGradient id="c59" x1="0" y1="0" x2="0" y2="1"><stop offset="0.0000" stop-color="#ff9700"/><stop offset="0.0356" stop-color="#ff9900"/><stop offset="0.0711" stop-color="#ffbd00"/><stop offset="0.0830" stop-color="#fff600"/><stop offset="0.0842" stop-color="#ffff00"/><stop offset="0.1067" stop-color="#55ff00"/><stop offset="0.1245" stop-color="#26ff00"/><stop offset="0.2016" stop-color="#23ff00"/><stop offset="0.2655" stop-color="#00ff00"/><stop offset="0.2964" stop-color="#00ff11"/><stop offset="0.3314" stop-color="#00ff00"/><stop offset="0.4032" stop-color="#23ff00"/><stop offset="0.5514" stop-color="#25ff00"/><stop offset="0.6340" stop-color="#00ff00"/><stop offset="0.7648" stop-color="#00ff3b"/><stop offset="0.9960" stop-color="#00ff46"/></linearGradient><linearGradient id="c60" x1="0" y1="0" x2="0" y2="1"><stop offset="0.0000" stop-color="#ff8e00"/><stop offset="0.0356" stop-color="#ff9100"/><stop offset="0.0711" stop-color="#ffb900"/><stop offset="0.0830" stop-color="#fff600"/><stop offset="0.0841" stop-color="#ffff00"/><stop offset="0.1067" stop-color="#54ff00"/><stop offset="0.1245" stop-color="#0eff00"/><stop offset="0.2089" stop-color="#00ff00"/><stop offset="0.2905" stop-color="#00ff0d"/><stop offset="0.3325" stop-color="#00ff00"/><stop offset="0.4032" stop-color="#16ff00"/><stop offset="0.5514" stop-color="#16ff00"/><stop offset="0.6047" stop-color="#02ff00"/><stop offset="0.6078" stop-color="#00ff00"/><stop offset="0.7648" stop-color="#00ff62"/><stop offset="0.9960" stop-color="#00ff66"/></linearGradient><linearGradient id="c61" x1="0" y1="0" x2="0" y2="1"><stop offset="0.0000" stop-color="#ff9500"/><stop offset="0.0237" stop-color="#ff9600"/><stop offset="0.0652" stop-color="#ffb800"/><stop offset="0.0784" stop-color="#ffff00"/><stop offset="0.0830" stop-color="#e6ff00"/><stop offset="0.1008" stop-color="#5bff00"/><stop offset="0.1186" stop-color="#09ff00"/><stop offset="0.1314" stop-color="#00ff00"/><stop offset="0.1660" stop-color="#00ff17"/><stop offset="0.2194" stop-color="#00ff1c"/><stop offset="0.2871" stop-color="#00ff00"/><stop offset="0.3676" stop-color="#21ff00"/><stop offset="0.5455" stop-color="#24ff00"/><stop offset="0.5988" stop-color="#0fff00"/><stop offset="0.6196" stop-color="#00ff00"/><stop offset="0.7648" stop-color="#00ff66"/><stop offset="0.9960" stop-color="#00ff6a"/></linearGradient><linearGradient id="c62" x1="0" y1="0" x2="0" y2="1"><stop offset="0.0000" stop-color="#ffaa00"/><stop offset="0.0356" stop-color="#ffab00"/><stop offset="0.0711" stop-color="#ffc500"/><stop offset="0.0834" stop-color="#ffff00"/><stop offset="0.0889" stop-color="#e5ff00"/><stop offset="0.1067" stop-color="#5aff00"/><stop offset="0.1210" stop-color="#00ff00"/><stop offset="0.1245" stop-color="#00ff16"/><stop offset="0.1838" stop-color="#00ff51"/><stop offset="0.2253" stop-color="#00ff4a"/><stop offset="0.2964" stop-color="#00ff04"/><stop offset="0.3039" stop-color="#00ff00"/><stop offset="0.3379" stop-color="#14ff00"/><stop offset="0.5336" stop-color="#20ff00"/><stop offset="0.5929" stop-color="#0bff00"/><stop offset="0.6064" stop-color="#00ff00"/><stop offset="0.7115" stop-color="#00ff56"/><stop offset="0.7648" stop-color="#00ff73"/><stop offset="0.9960" stop-color="#00ff7c"/></linearGradient><linearGradient id="c63" x1="0" y1="0" x2="0" y2="1"><stop offset="0.0000" stop-color="#ffac00"/><stop offset="0.0652" stop-color="#ffc000"/><stop offset="0.0819" stop-color="#ffff00"/><stop offset="0.0830" stop-color="#fbff00"/><stop offset="0.1067" stop-color="#47ff00"/><stop offset="0.1189" stop-color="#00ff00"/><stop offset="0.1245" stop-color="#00ff21"/><stop offset="0.1838" stop-color="#00ff61"/><stop offset="0.2253" stop-color="#00ff5b"/><stop offset="0.2964" stop-color="#00ff0d"/><stop offset="0.3160" stop-color="#00ff00"/><stop offset="0.3379" stop-color="#0eff00"/><stop offset="0.5217" stop-color="#20ff00"/><stop offset="0.5870" stop-color="#0cff00"/><stop offset="0.6016" stop-color="#00ff00"/><stop offset="0.7115" stop-color="#00ff58"/><stop offset="0.7648" stop-color="#00ff75"/><stop offset="0.8893" stop-color="#00ff86"/><stop offset="0.9960" stop-color="#00ff82"/></linearGradient><linearGradient id="c64" x1="0" y1="0" x2="0" y2="1"><stop offset="0.0000" stop-color="#ff2a00"/><stop offset="0.0296" stop-color="#ff2f00"/><stop offset="0.0534" stop-color="#ff7300"/><stop offset="0.0593" stop-color="#ff9200"/><stop offset="0.0704" stop-color="#ffff00"/><stop offset="0.0949" stop-color="#0eff00"/><stop offset="0.0966" stop-color="#00ff00"/><stop offset="0.1008" stop-color="#00ff20"/><stop offset="0.1067" stop-color="#00ff32"/><stop offset="0.2134" stop-color="#00ff07"/><stop offset="0.5336" stop-color="#00ff05"/><stop offset="0.6462" stop-color="#00ff38"/><stop offset="0.9960" stop-color="#00ff38"/></linearGradient><linearGradient id="c65" x1="0" y1="0" x2="0" y2="1"><stop offset="0.0000" stop-color="#ff4100"/><stop offset="0.0296" stop-color="#ff4700"/><stop offset="0.0534" stop-color="#ff8400"/><stop offset="0.0593" stop-color="#ffa300"/><stop offset="0.0652" stop-color="#ffd800"/><stop offset="0.0693" stop-color="#ffff00"/><stop offset="0.0949" stop-color="#0aff00"/><stop offset="0.0961" stop-color="#00ff00"/><stop offset="0.1008" stop-color="#00ff25"/><stop offset="0.1067" stop-color="#00ff32"/><stop offset="0.1304" stop-color="#00ff2f"/><stop offset="0.1918" stop-color="#00ff00"/><stop offset="0.1957" stop-color="#03ff00"/><stop offset="0.2549" stop-color="#0aff00"/><stop offset="0.5395" stop-color="#0aff00"/><stop offset="0.5602" stop-color="#00ff00"/><stop offset="0.6462" stop-color="#00ff29"/><stop offset="0.9960" stop-color="#00ff29"/></linearGradient><linearGradient id="c66" x1="0" y1="0" x2="0" y2="1"><stop offset="0.0000" stop-color="#ff4900"/><stop offset="0.0296" stop-color="#ff4f00"/><stop offset="0.0534" stop-color="#ff8a00"/><stop offset="0.0593" stop-color="#ffa900"/><stop offset="0.0693" stop-color="#ffff00"/><stop offset="0.0711" stop-color="#efff00"/><stop offset="0.0944" stop-color="#00ff00"/><stop offset="0.1008" stop-color="#00ff41"/><stop offset="0.1067" stop-color="#00ff50"/><stop offset="0.1304" stop-color="#00ff4c"/><stop offset="0.1897" stop-color="#00ff11"/><stop offset="0.2431" stop-color="#00ff05"/><stop offset="0.5395" stop-color="#00ff05"/><stop offset="0.6462" stop-color="#00ff37"/><stop offset="0.9960" stop-color="#00ff37"/></linearGradient><linearGradient id="c67" x1="0" y1="0" x2="0" y2="1"><stop offset="0.0000" stop-color="#ff4600"/><stop offset="0.0237" stop-color="#ff4b00"/><stop offset="0.0474" stop-color="#ff8600"/><stop offset="0.0534" stop-color="#ffa100"/><stop offset="0.0643" stop-color="#ffff00"/><stop offset="0.0652" stop-color="#f7ff00"/><stop offset="0.0903" stop-color="#00ff00"/><stop offset="0.0949" stop-color="#00ff2d"/><stop offset="0.1008" stop-color="#00ff44"/><stop offset="0.1067" stop-color="#00ff48"/><stop offset="0.1304" stop-color="#00ff43"/><stop offset="0.1864" stop-color="#00ff00"/><stop offset="0.1897" stop-color="#04ff00"/><stop offset="0.2431" stop-color="#12ff00"/><stop offset="0.5395" stop-color="#13ff00"/><stop offset="0.5796" stop-color="#00ff00"/><stop offset="0.6462" stop-color="#00ff1f"/><stop offset="0.9960" stop-color="#00ff1f"/></linearGradient><linearGradient id="c68" x1="0" y1="0" x2="0" y2="1"><stop offset="0.0000" stop-color="#ff4e00"/><stop offset="0.0237" stop-color="#ff4e00"/><stop offset="0.0534" stop-color="#ff9300"/><stop offset="0.0665" stop-color="#ffff00"/><stop offset="0.0711" stop-color="#d9ff00"/><stop offset="0.0929" stop-color="#00ff00"/><stop offset="0.1008" stop-color="#00ff4f"/><stop offset="0.1067" stop-color="#00ff53"/><stop offset="0.1304" stop-color="#00ff4d"/><stop offset="0.1882" stop-color="#00ff00"/><stop offset="0.1897" stop-color="#02ff00"/><stop offset="0.2372" stop-color="#12ff00"/><stop offset="0.5395" stop-color="#13ff00"/><stop offset="0.5848" stop-color="#00ff00"/><stop offset="0.6522" stop-color="#00ff1d"/><stop offset="0.9960" stop-color="#00ff1d"/></linearGradient><linearGradient id="c69" x1="0" y1="0" x2="0" y2="1"><stop offset="0.0000" stop-color="#ff3600"/><stop offset="0.0237" stop-color="#ff3d00"/><stop offset="0.0474" stop-color="#ff7d00"/><stop offset="0.0534" stop-color="#ff9f00"/><stop offset="0.0637" stop-color="#ffff00"/><stop offset="0.0652" stop-color="#f0ff00"/><stop offset="0.0830" stop-color="#39ff00"/><stop offset="0.0879" stop-color="#00ff00"/><stop offset="0.0949" stop-color="#00ff52"/><stop offset="0.1067" stop-color="#00ff6d"/><stop offset="0.1304" stop-color="#00ff66"/><stop offset="0.1897" stop-color="#00ff12"/><stop offset="0.2431" stop-color="#00ff00"/><stop offset="0.2721" stop-color="#00ff00"/><stop offset="0.5336" stop-color="#03ff00"/><stop offset="0.5403" stop-color="#00ff00"/><stop offset="0.6462" stop-color="#00ff2c"/><stop offset="0.9960" stop-color="#00ff2d"/></linearGradient><linearGradient id="c70" x1="0" y1="0" x2="0" y2="1"><stop offset="0.0000" stop-color="#ff3c00"/><stop offset="0.0119" stop-color="#ff4200"/><stop offset="0.0356" stop-color="#ff8000"/><stop offset="0.0415" stop-color="#ff9f00"/><stop offset="0.0513" stop-color="#ffff00"/><stop offset="0.0711" stop-color="#3cff00"/><stop offset="0.0781" stop-color="#00ff00"/><stop offset="0.0830" stop-color="#00ff2a"/><stop offset="0.0889" stop-color="#00ff41"/><stop offset="0.1067" stop-color="#00ff54"/><stop offset="0.1304" stop-color="#00ff4e"/><stop offset="0.1779" stop-color="#00ff06"/><stop offset="0.1852" stop-color="#00ff00"/><stop offset="0.2075" stop-color="#12ff00"/><stop offset="0.3617" stop-color="#24ff00"/><stop offset="0.5395" stop-color="#20ff00"/><stop offset="0.6136" stop-color="#00ff00"/><stop offset="0.6462" stop-color="#00ff0e"/><stop offset="0.9960" stop-color="#00ff10"/></linearGradient><linearGradient id="c71" x1="0" y1="0" x2="0" y2="1"><stop offset="0.0000" stop-color="#ff2c00"/><stop offset="0.0237" stop-color="#ff2e00"/><stop offset="0.0534" stop-color="#ff8700"/><stop offset="0.0655" stop-color="#ffff00"/><stop offset="0.0912" stop-color="#00ff00"/><stop offset="0.0949" stop-color="#00ff24"/><stop offset="0.1008" stop-color="#00ff48"/><stop offset="0.1067" stop-color="#00ff4c"/><stop offset="0.1304" stop-color="#00ff46"/><stop offset="0.1779" stop-color="#00ff01"/><stop offset="0.1797" stop-color="#00ff00"/><stop offset="0.2134" stop-color="#18ff00"/><stop offset="0.3854" stop-color="#36ff00"/><stop offset="0.4802" stop-color="#34ff00"/><stop offset="0.4921" stop-color="#2eff00"/><stop offset="0.5099" stop-color="#0cff00"/><stop offset="0.5139" stop-color="#00ff00"/><stop offset="0.5692" stop-color="#00ffa8"/><stop offset="0.6107" stop-color="#00ffca"/><stop offset="0.6344" stop-color="#00ffd0"/><stop offset="0.6581" stop-color="#00ffaa"/><stop offset="0.6640" stop-color="#00ffc7"/><stop offset="0.9960" stop-color="#00ffc7"/></linearGradient><linearGradient id="c72" x1="0" y1="0" x2="0" y2="1"><stop offset="0.0000" stop-color="#ff3000"/><stop offset="0.0237" stop-color="#ff3100"/><stop offset="0.0534" stop-color="#ff8600"/><stop offset="0.0653" stop-color="#ffff00"/><stop offset="0.0906" stop-color="#00ff00"/><stop offset="0.0949" stop-color="#00ff2c"/><stop offset="0.1008" stop-color="#00ff56"/><stop offset="0.1304" stop-color="#00ff54"/><stop offset="0.1779" stop-color="#00ff17"/><stop offset="0.2113" stop-color="#00ff00"/><stop offset="0.2134" stop-color="#01ff00"/><stop offset="0.3913" stop-color="#2eff00"/><stop offset="0.4802" stop-color="#2aff00"/><stop offset="0.5099" stop-color="#11ff00"/><stop offset="0.5192" stop-color="#00ff00"/><stop offset="0.5692" stop-color="#00ff59"/><stop offset="0.6166" stop-color="#00ff7c"/><stop offset="0.6403" stop-color="#00ffaa"/><stop offset="0.6575" stop-color="#00ffff"/><stop offset="0.6640" stop-color="#00deff"/><stop offset="0.9960" stop-color="#00deff"/></linearGradient><linearGradient id="c73" x1="0" y1="0" x2="0" y2="1"><stop offset="0.0000" stop-color="#ff4000"/><stop offset="0.0415" stop-color="#ff4000"/><stop offset="0.0711" stop-color="#ff8700"/><stop offset="0.0856" stop-color="#ffff00"/><stop offset="0.0889" stop-color="#e3ff00"/><stop offset="0.1114" stop-color="#00ff00"/><stop offset="0.1186" stop-color="#00ff48"/><stop offset="0.2047" stop-color="#00ff00"/><stop offset="0.2134" stop-color="#07ff00"/><stop offset="0.3913" stop-color="#3fff00"/><stop offset="0.4862" stop-color="#38ff00"/><stop offset="0.5099" stop-color="#0aff00"/><stop offset="0.5127" stop-color="#00ff00"/><stop offset="0.5692" stop-color="#00ffc3"/><stop offset="0.5810" stop-color="#00ffcc"/><stop offset="0.5988" stop-color="#00ffaa"/><stop offset="0.6150" stop-color="#00ffff"/><stop offset="0.6285" stop-color="#00b9ff"/><stop offset="0.6522" stop-color="#0026ff"/><stop offset="0.6640" stop-color="#000fff"/><stop offset="0.9960" stop-color="#000fff"/></linearGradient><linearGradient id="c74" x1="0" y1="0" x2="0" y2="1"><stop offset="0.0000" stop-color="#ff2a00"/><stop offset="0.0889" stop-color="#ff2a00"/><stop offset="0.1186" stop-color="#ff7a00"/><stop offset="0.1245" stop-color="#ffa600"/><stop offset="0.1332" stop-color="#ffff00"/><stop offset="0.1542" stop-color="#2bff00"/><stop offset="0.1621" stop-color="#00ff00"/><stop offset="0.1660" stop-color="#00ff15"/><stop offset="0.1995" stop-color="#00ff00"/><stop offset="0.2075" stop-color="#05ff00"/><stop offset="0.3913" stop-color="#41ff00"/><stop offset="0.4565" stop-color="#41ff00"/><stop offset="0.4980" stop-color="#2cff00"/><stop offset="0.5158" stop-color="#03ff00"/><stop offset="0.5168" stop-color="#00ff00"/><stop offset="0.5632" stop-color="#00ff8f"/><stop offset="0.5810" stop-color="#00ffaa"/><stop offset="0.5958" stop-color="#00ffff"/><stop offset="0.6344" stop-color="#0020ff"/><stop offset="0.6505" stop-color="#0000ff"/><stop offset="0.6640" stop-color="#1b00ff"/><stop offset="0.9960" stop-color="#1b00ff"/></linearGradient><linearGradient id="c75" x1="0" y1="0" x2="0" y2="1"><stop offset="0.0000" stop-color="#ff5500"/><stop offset="0.0296" stop-color="#ff5500"/><stop offset="0.0593" stop-color="#ff9800"/><stop offset="0.0719" stop-color="#ffff00"/><stop offset="0.0771" stop-color="#d5ff00"/><stop offset="0.0949" stop-color="#23ff00"/><stop offset="0.1019" stop-color="#00ff00"/><stop offset="0.1067" stop-color="#00ff18"/><stop offset="0.1577" stop-color="#00ff00"/><stop offset="0.2016" stop-color="#15ff00"/><stop offset="0.3735" stop-color="#47ff00"/><stop offset="0.4862" stop-color="#44ff00"/><stop offset="0.4980" stop-color="#35ff00"/><stop offset="0.5040" stop-color="#1fff00"/><stop offset="0.5089" stop-color="#00ff00"/><stop offset="0.5217" stop-color="#00ff51"/><stop offset="0.5336" stop-color="#00ff86"/><stop offset="0.5632" stop-color="#00ffd4"/><stop offset="0.5708" stop-color="#00ffff"/><stop offset="0.5870" stop-color="#00a4ff"/><stop offset="0.6047" stop-color="#0025ff"/><stop offset="0.6257" stop-color="#0000ff"/><stop offset="0.6344" stop-color="#0f00ff"/><stop offset="0.6640" stop-color="#2c00ff"/><stop offset="0.9960" stop-color="#2c00ff"/></linearGradient><linearGradient id="c76" x1="0" y1="0" x2="0" y2="1"><stop offset="0.0000" stop-color="#ffaa00"/><stop offset="0.0296" stop-color="#ffab00"/><stop offset="0.0593" stop-color="#ffcf00"/><stop offset="0.0704" stop-color="#ffff00"/><stop offset="0.0711" stop-color="#fcff00"/><stop offset="0.0889" stop-color="#4dff00"/><stop offset="0.0949" stop-color="#20ff00"/><stop offset="0.1051" stop-color="#00ff00"/><stop offset="0.1067" stop-color="#00ff05"/><stop offset="0.1264" stop-color="#00ff00"/><stop offset="0.3024" stop-color="#2eff00"/><stop offset="0.3358" stop-color="#00ff00"/><stop offset="0.3972" stop-color="#00ff54"/><stop offset="0.4921" stop-color="#00ffb9"/><stop offset="0.5180" stop-color="#00ffff"/><stop offset="0.5514" stop-color="#00a4ff"/><stop offset="0.5632" stop-color="#007aff"/><stop offset="0.5751" stop-color="#0026ff"/><stop offset="0.5917" stop-color="#0000ff"/><stop offset="0.5988" stop-color="#1000ff"/><stop offset="0.6640" stop-color="#5d00ff"/><stop offset="0.9960" stop-color="#5d00ff"/></linearGradient><linearGradient id="c77" x1="0" y1="0" x2="0" y2="1"><stop offset="0.0000" stop-color="#ff4400"/><stop offset="0.0237" stop-color="#ff4400"/><stop offset="0.0534" stop-color="#ff8c00"/><stop offset="0.0670" stop-color="#ffff00"/><stop offset="0.0711" stop-color="#dcff00"/><stop offset="0.0889" stop-color="#28ff00"/><stop offset="0.1008" stop-color="#04ff00"/><stop offset="0.1377" stop-color="#00ff00"/><stop offset="0.2016" stop-color="#00ff08"/><stop offset="0.2964" stop-color="#00ff61"/><stop offset="0.3498" stop-color="#00ffab"/><stop offset="0.4681" stop-color="#00ffff"/><stop offset="0.4921" stop-color="#00eeff"/><stop offset="0.5158" stop-color="#00b0ff"/><stop offset="0.5573" stop-color="#0021ff"/><stop offset="0.5837" stop-color="#0000ff"/><stop offset="0.6403" stop-color="#4700ff"/><stop offset="0.6640" stop-color="#5e00ff"/><stop offset="0.9960" stop-color="#5e00ff"/></linearGradient><linearGradient id="c78" x1="0" y1="0" x2="0" y2="1"><stop offset="0.0000" stop-color="#ff5000"/><stop offset="0.0356" stop-color="#ff5000"/><stop offset="0.0652" stop-color="#ff9200"/><stop offset="0.0771" stop-color="#ffe900"/><stop offset="0.0775" stop-color="#ffff00"/><stop offset="0.0822" stop-color="#00ff00"/><stop offset="0.0830" stop-color="#00ff2b"/><stop offset="0.0949" stop-color="#00ff4a"/><stop offset="0.1008" stop-color="#00ff29"/><stop offset="0.1126" stop-color="#00ff94"/><stop offset="0.1186" stop-color="#00ffb8"/><stop offset="0.1304" stop-color="#00ffed"/><stop offset="0.1364" stop-color="#00fff5"/><stop offset="0.1811" stop-color="#00ffff"/><stop offset="0.1957" stop-color="#00fcff"/><stop offset="0.2964" stop-color="#00bcff"/><stop offset="0.4506" stop-color="#0026ff"/><stop offset="0.4980" stop-color="#0016ff"/><stop offset="0.5220" stop-color="#0000ff"/><stop offset="0.5277" stop-color="#0500ff"/><stop offset="0.5336" stop-color="#3900ff"/><stop offset="0.5632" stop-color="#3a00ff"/><stop offset="0.6047" stop-color="#8500ff"/><stop offset="0.6403" stop-color="#a100ff"/><stop offset="0.9960" stop-color="#aa00ff"/></linearGradient><linearGradient id="c79" x1="0" y1="0" x2="0" y2="1"><stop offset="0.0000" stop-color="#ff4f00"/><stop offset="0.0119" stop-color="#ff4f00"/><stop offset="0.0415" stop-color="#ff9500"/><stop offset="0.0534" stop-color="#fff700"/><stop offset="0.0535" stop-color="#ffff00"/><stop offset="0.0585" stop-color="#00ff00"/><stop offset="0.0593" stop-color="#00ff2b"/><stop offset="0.0652" stop-color="#00ff3b"/><stop offset="0.0711" stop-color="#00ff5f"/><stop offset="0.0771" stop-color="#00ff67"/><stop offset="0.0830" stop-color="#00ffdc"/><stop offset="0.0889" stop-color="#00fff2"/><stop offset="0.0902" stop-color="#00ffff"/><stop offset="0.1008" stop-color="#008eff"/><stop offset="0.1067" stop-color="#0064ff"/><stop offset="0.1126" stop-color="#0052ff"/><stop offset="0.2016" stop-color="#0066ff"/><stop offset="0.3439" stop-color="#0008ff"/><stop offset="0.3635" stop-color="#0000ff"/><stop offset="0.3794" stop-color="#0600ff"/><stop offset="0.3823" stop-color="#0000ff"/><stop offset="0.3854" stop-color="#0007ff"/><stop offset="0.3972" stop-color="#0004ff"/><stop offset="0.3994" stop-color="#0000ff"/><stop offset="0.4150" stop-color="#1a00ff"/><stop offset="0.4506" stop-color="#7400ff"/><stop offset="0.4743" stop-color="#9b00ff"/><stop offset="0.4980" stop-color="#8a00ff"/><stop offset="0.5632" stop-color="#8100ff"/><stop offset="0.6166" stop-color="#a200ff"/><stop offset="0.9960" stop-color="#a300ff"/></linearGradient><linearGradient id="c80" x1="0" y1="0" x2="0" y2="1"><stop offset="0.0000" stop-color="#ff3300"/><stop offset="0.0296" stop-color="#ff3300"/><stop offset="0.0593" stop-color="#ff8200"/><stop offset="0.0711" stop-color="#ffed00"/><stop offset="0.0715" stop-color="#ffff00"/><stop offset="0.0762" stop-color="#00ff00"/><stop offset="0.0771" stop-color="#00ff2f"/><stop offset="0.0830" stop-color="#00ff4d"/><stop offset="0.0889" stop-color="#00ff80"/><stop offset="0.0949" stop-color="#00ff94"/><stop offset="0.0997" stop-color="#00ffff"/><stop offset="0.1008" stop-color="#00e8ff"/><stop offset="0.1067" stop-color="#00b4ff"/><stop offset="0.1186" stop-color="#002aff"/><stop offset="0.1245" stop-color="#0002ff"/><stop offset="0.2251" stop-color="#0000ff"/><stop offset="0.3617" stop-color="#0300ff"/><stop offset="0.3794" stop-color="#1a00ff"/><stop offset="0.4328" stop-color="#9b00ff"/><stop offset="0.4862" stop-color="#b200ff"/><stop offset="0.9960" stop-color="#b500ff"/></linearGradient><linearGradient id="c81" x1="0" y1="0" x2="0" y2="1"><stop offset="0.0000" stop-color="#ff9000"/><stop offset="0.0889" stop-color="#ff9000"/><stop offset="0.1186" stop-color="#ffbd00"/><stop offset="0.1304" stop-color="#fffd00"/><stop offset="0.1305" stop-color="#ffff00"/><stop offset="0.1354" stop-color="#00ff00"/><stop offset="0.1364" stop-color="#00ff31"/><stop offset="0.1542" stop-color="#00ffa3"/><stop offset="0.1585" stop-color="#00ffff"/><stop offset="0.1601" stop-color="#00deff"/><stop offset="0.1660" stop-color="#00b5ff"/><stop offset="0.1779" stop-color="#002dff"/><stop offset="0.1838" stop-color="#0007ff"/><stop offset="0.1881" stop-color="#0000ff"/><stop offset="0.1897" stop-color="#0200ff"/><stop offset="0.3024" stop-color="#1000ff"/><stop offset="0.3617" stop-color="#3500ff"/><stop offset="0.3913" stop-color="#6f00ff"/><stop offset="0.4150" stop-color="#6400ff"/><stop offset="0.4209" stop-color="#7900ff"/><stop offset="0.4506" stop-color="#6c00ff"/><stop offset="0.5395" stop-color="#a800ff"/><stop offset="0.9960" stop-color="#a800ff"/></linearGradient><linearGradient id="c82" x1="0" y1="0" x2="0" y2="1"><stop offset="0.0000" stop-color="#ffa100"/><stop offset="0.0356" stop-color="#ffa200"/><stop offset="0.0652" stop-color="#ffcb00"/><stop offset="0.0763" stop-color="#ffff00"/><stop offset="0.0771" stop-color="#fbff00"/><stop offset="0.0820" stop-color="#00ff00"/><stop offset="0.0830" stop-color="#00ff31"/><stop offset="0.0889" stop-color="#00ff49"/><stop offset="0.0949" stop-color="#00ff16"/><stop offset="0.1066" stop-color="#00ffff"/><stop offset="0.1067" stop-color="#00fcff"/><stop offset="0.1126" stop-color="#00d8ff"/><stop offset="0.1245" stop-color="#0045ff"/><stop offset="0.1304" stop-color="#001cff"/><stop offset="0.1364" stop-color="#0010ff"/><stop offset="0.2300" stop-color="#0000ff"/><stop offset="0.2549" stop-color="#0400ff"/><stop offset="0.2905" stop-color="#1700ff"/><stop offset="0.3261" stop-color="#3100ff"/><stop offset="0.3913" stop-color="#8f00ff"/><stop offset="0.4447" stop-color="#6100ff"/><stop offset="0.5395" stop-color="#9900ff"/><stop offset="0.9960" stop-color="#9a00ff"/></linearGradient><linearGradient id="c83" x1="0" y1="0" x2="0" y2="1"><stop offset="0.0000" stop-color="#ffa400"/><stop offset="0.0356" stop-color="#ffa600"/><stop offset="0.0593" stop-color="#ffc300"/><stop offset="0.0749" stop-color="#ffff00"/><stop offset="0.0771" stop-color="#f7ff00"/><stop offset="0.0819" stop-color="#00ff00"/><stop offset="0.0830" stop-color="#00ff3a"/><stop offset="0.0889" stop-color="#00ff63"/><stop offset="0.0949" stop-color="#00ff4e"/><stop offset="0.1031" stop-color="#00ffff"/><stop offset="0.1067" stop-color="#00b1ff"/><stop offset="0.1126" stop-color="#0091ff"/><stop offset="0.1245" stop-color="#0010ff"/><stop offset="0.1279" stop-color="#0000ff"/><stop offset="0.1304" stop-color="#0c00ff"/><stop offset="0.1542" stop-color="#1d00ff"/><stop offset="0.1957" stop-color="#6b00ff"/><stop offset="0.3320" stop-color="#b500ff"/><stop offset="0.9960" stop-color="#b000ff"/></linearGradient><linearGradient id="c84" x1="0" y1="0" x2="0" y2="1"><stop offset="0.0000" stop-color="#eeff00"/><stop offset="0.0534" stop-color="#ecff00"/><stop offset="0.0711" stop-color="#9dff00"/><stop offset="0.0756" stop-color="#00ff00"/><stop offset="0.0771" stop-color="#00ff32"/><stop offset="0.0830" stop-color="#00ff54"/><stop offset="0.0889" stop-color="#00ff48"/><stop offset="0.0990" stop-color="#00ffff"/><stop offset="0.1008" stop-color="#00deff"/><stop offset="0.1067" stop-color="#00d1ff"/><stop offset="0.1126" stop-color="#009fff"/><stop offset="0.1186" stop-color="#0083ff"/><stop offset="0.1245" stop-color="#007dff"/><stop offset="0.1364" stop-color="#008eff"/><stop offset="0.1423" stop-color="#0082ff"/><stop offset="0.1482" stop-color="#0067ff"/><stop offset="0.1601" stop-color="#0012ff"/><stop offset="0.1610" stop-color="#0000ff"/><stop offset="0.1660" stop-color="#6800ff"/><stop offset="0.1897" stop-color="#ab00ff"/><stop offset="0.3379" stop-color="#c300ff"/><stop offset="0.5632" stop-color="#ab00ff"/><stop offset="0.9960" stop-color="#a900ff"/></linearGradient><linearGradient id="c85" x1="0" y1="0" x2="0" y2="1"><stop offset="0.0000" stop-color="#e6ff00"/><stop offset="0.0474" stop-color="#e6ff00"/><stop offset="0.0534" stop-color="#dbff00"/><stop offset="0.0711" stop-color="#91ff00"/><stop offset="0.0756" stop-color="#00ff00"/><stop offset="0.0771" stop-color="#00ff31"/><stop offset="0.0807" stop-color="#00ff00"/><stop offset="0.0830" stop-color="#1fff00"/><stop offset="0.0846" stop-color="#00ff00"/><stop offset="0.0982" stop-color="#00ffff"/><stop offset="0.1008" stop-color="#00ceff"/><stop offset="0.1067" stop-color="#00c0ff"/><stop offset="0.1186" stop-color="#003aff"/><stop offset="0.1245" stop-color="#0014ff"/><stop offset="0.1322" stop-color="#0000ff"/><stop offset="0.1423" stop-color="#1a00ff"/><stop offset="0.1719" stop-color="#8700ff"/><stop offset="0.1838" stop-color="#a200ff"/><stop offset="0.3439" stop-color="#d300ff"/><stop offset="0.5158" stop-color="#a000ff"/><stop offset="0.6344" stop-color="#9000ff"/><stop offset="0.9960" stop-color="#8f00ff"/></linearGradient><linearGradient id="c86" x1="0" y1="0" x2="0" y2="1"><stop offset="0.0000" stop-color="#eeff00"/><stop offset="0.0415" stop-color="#e6ff00"/><stop offset="0.0593" stop-color="#97ff00"/><stop offset="0.0636" stop-color="#00ff00"/><stop offset="0.0652" stop-color="#00ff39"/><stop offset="0.0711" stop-color="#00ff5f"/><stop offset="0.0771" stop-color="#00ff67"/><stop offset="0.0853" stop-color="#00ffff"/><stop offset="0.0889" stop-color="#00bdff"/><stop offset="0.0949" stop-color="#00a6ff"/><stop offset="0.1067" stop-color="#002bff"/><stop offset="0.1126" stop-color="#0010ff"/><stop offset="0.1267" stop-color="#0000ff"/><stop offset="0.1304" stop-color="#0400ff"/><stop offset="0.1660" stop-color="#8500ff"/><stop offset="0.1838" stop-color="#ab00ff"/><stop offset="0.2964" stop-color="#e400ff"/><stop offset="0.3498" stop-color="#ed00ff"/><stop offset="0.6581" stop-color="#7300ff"/><stop offset="0.9960" stop-color="#7200ff"/></linearGradient><linearGradient id="c87" x1="0" y1="0" x2="0" y2="1"><stop offset="0.0000" stop-color="#60ff00"/><stop offset="0.0771" stop-color="#60ff00"/><stop offset="0.0810" stop-color="#00ff00"/><stop offset="0.0830" stop-color="#00ff2f"/><stop offset="0.0889" stop-color="#00ff4b"/><stop offset="0.0949" stop-color="#00ff7d"/><stop offset="0.1057" stop-color="#00ffff"/><stop offset="0.1186" stop-color="#0063ff"/><stop offset="0.1287" stop-color="#0000ff"/><stop offset="0.1304" stop-color="#1000ff"/><stop offset="0.1601" stop-color="#8500ff"/><stop offset="0.1779" stop-color="#af00ff"/><stop offset="0.2905" stop-color="#e900ff"/><stop offset="0.3439" stop-color="#f300ff"/><stop offset="0.6581" stop-color="#7f00ff"/><stop offset="0.9960" stop-color="#7e00ff"/></linearGradient><linearGradient id="c88" x1="0" y1="0" x2="0" y2="1"><stop offset="0.0000" stop-color="#0bff00"/><stop offset="0.0415" stop-color="#0bff00"/><stop offset="0.0474" stop-color="#08ff00"/><stop offset="0.0492" stop-color="#00ff00"/><stop offset="0.0534" stop-color="#00ff12"/><stop offset="0.0593" stop-color="#00ff42"/><stop offset="0.0652" stop-color="#00ff85"/><stop offset="0.0738" stop-color="#00ffff"/><stop offset="0.0830" stop-color="#007eff"/><stop offset="0.0889" stop-color="#0038ff"/><stop offset="0.0949" stop-color="#000aff"/><stop offset="0.1025" stop-color="#0000ff"/><stop offset="0.1245" stop-color="#1e00ff"/><stop offset="0.1660" stop-color="#8f00ff"/><stop offset="0.2549" stop-color="#d500ff"/><stop offset="0.3142" stop-color="#ea00ff"/><stop offset="0.3676" stop-color="#ea00ff"/><stop offset="0.5870" stop-color="#aa00ff"/><stop offset="0.6581" stop-color="#8900ff"/><stop offset="0.9960" stop-color="#8800ff"/></linearGradient><linearGradient id="c89" x1="0" y1="0" x2="0" y2="1"><stop offset="0.0000" stop-color="#00ff25"/><stop offset="0.0474" stop-color="#00ff25"/><stop offset="0.0534" stop-color="#00ff30"/><stop offset="0.0593" stop-color="#00ff55"/><stop offset="0.0652" stop-color="#00ff8e"/><stop offset="0.0746" stop-color="#00ffff"/><stop offset="0.0889" stop-color="#0052ff"/><stop offset="0.0949" stop-color="#0020ff"/><stop offset="0.1008" stop-color="#0003ff"/><stop offset="0.1027" stop-color="#0000ff"/><stop offset="0.1601" stop-color="#5f00ff"/><stop offset="0.1897" stop-color="#7100ff"/><stop offset="0.2609" stop-color="#c100ff"/><stop offset="0.3735" stop-color="#cc00ff"/><stop offset="0.5810" stop-color="#a300ff"/><stop offset="0.6581" stop-color="#8100ff"/><stop offset="0.9960" stop-color="#8000ff"/></linearGradient><linearGradient id="c90" x1="0" y1="0" x2="0" y2="1"><stop offset="0.0000" stop-color="#00ff45"/><stop offset="0.0474" stop-color="#00ff4c"/><stop offset="0.0534" stop-color="#00ff6b"/><stop offset="0.0593" stop-color="#00ff9d"/><stop offset="0.0679" stop-color="#00ffff"/><stop offset="0.0830" stop-color="#0055ff"/><stop offset="0.0889" stop-color="#0022ff"/><stop offset="0.0949" stop-color="#0004ff"/><stop offset="0.0975" stop-color="#0000ff"/><stop offset="0.1482" stop-color="#4600ff"/><stop offset="0.1897" stop-color="#5c00ff"/><stop offset="0.2609" stop-color="#b700ff"/><stop offset="0.3557" stop-color="#bf00ff"/><stop offset="0.5751" stop-color="#a700ff"/><stop offset="0.6640" stop-color="#8400ff"/><stop offset="0.9960" stop-color="#8400ff"/></linearGradient><linearGradient id="c91" x1="0" y1="0" x2="0" y2="1"><stop offset="0.0000" stop-color="#00ff57"/><stop offset="0.0474" stop-color="#00ff5e"/><stop offset="0.0534" stop-color="#00ff7c"/><stop offset="0.0593" stop-color="#00ffae"/><stop offset="0.0666" stop-color="#00ffff"/><stop offset="0.0830" stop-color="#0049ff"/><stop offset="0.0935" stop-color="#0000ff"/><stop offset="0.0949" stop-color="#0a00ff"/><stop offset="0.1423" stop-color="#4d00ff"/><stop offset="0.1838" stop-color="#5b00ff"/><stop offset="0.2549" stop-color="#b300ff"/><stop offset="0.5751" stop-color="#af00ff"/><stop offset="0.6640" stop-color="#8d00ff"/><stop offset="0.9960" stop-color="#8d00ff"/></linearGradient><linearGradient id="c92" x1="0" y1="0" x2="0" y2="1"><stop offset="0.0000" stop-color="#00ff62"/><stop offset="0.0474" stop-color="#00ff69"/><stop offset="0.0593" stop-color="#00ffb6"/><stop offset="0.0661" stop-color="#00ffff"/><stop offset="0.0830" stop-color="#004aff"/><stop offset="0.0940" stop-color="#0000ff"/><stop offset="0.0949" stop-color="#0600ff"/><stop offset="0.1423" stop-color="#4900ff"/><stop offset="0.1838" stop-color="#5600ff"/><stop offset="0.2549" stop-color="#ac00ff"/><stop offset="0.5751" stop-color="#ab00ff"/><stop offset="0.6640" stop-color="#8900ff"/><stop offset="0.9960" stop-color="#8900ff"/></linearGradient><linearGradient id="sl" gradientUnits="userSpaceOnUse" x1="0" y1="87" x2="0" y2="365"><stop offset="0.0000" stop-color="#ffb200"/><stop offset="0.0755" stop-color="#ffc400"/><stop offset="0.1115" stop-color="#fff600"/><stop offset="0.1147" stop-color="#ffff00"/><stop offset="0.1403" stop-color="#bbff00"/><stop offset="0.1763" stop-color="#55ff00"/><stop offset="0.2266" stop-color="#11ff00"/><stop offset="0.3705" stop-color="#1aff00"/><stop offset="0.4604" stop-color="#5eff00"/><stop offset="0.7662" stop-color="#55ff00"/><stop offset="0.9101" stop-color="#77ff00"/><stop offset="1.0000" stop-color="#6eff00"/></linearGradient><linearGradient id="bl1" x1="0" y1="0" x2="0" y2="1"><stop offset="0" stop-color="#00ffe0"/><stop offset=".08" stop-color="#00e0ff"/><stop offset=".16" stop-color="#1020ff"/><stop offset=".5" stop-color="#0818f0"/><stop offset=".62" stop-color="#0070ff"/><stop offset=".75" stop-color="#00e8ff"/><stop offset="1" stop-color="#00f0ff"/></linearGradient><linearGradient id="bl2" x1="0" y1="0" x2="0" y2="1"><stop offset="0" stop-color="#00ffd0"/><stop offset=".08" stop-color="#00e8ff"/><stop offset=".2" stop-color="#00b0ff"/><stop offset=".7" stop-color="#00b8ff"/><stop offset="1" stop-color="#00d8ff"/></linearGradient><linearGradient id="bl3" x1="0" y1="0" x2="0" y2="1"><stop offset="0" stop-color="#00ff90"/><stop offset=".4" stop-color="#00ffe0"/><stop offset=".8" stop-color="#00f0ff"/><stop offset="1" stop-color="#00ffb0"/></linearGradient><clipPath id="hm"><path d="M209.8 56.0 L210.0 54.5 L220.5 54.5 L220.5 54.0 L231.0 54.0 L231.0 55.0 L241.5 55.0 L241.5 54.0 L252.0 54.0 L252.0 55.0 L262.5 55.0 L262.5 55.0 L273.0 55.0 L273.0 55.0 L283.5 55.0 L283.5 54.5 L294.0 54.5 L294.0 53.0 L304.5 53.0 L304.5 54.0 L315.0 54.0 L315.0 53.5 L325.5 53.5 L325.5 55.0 L336.0 55.0 L336.0 53.0 L346.5 53.0 L346.5 53.5 L357.0 53.5 L357.0 53.0 L367.5 53.0 L367.5 54.0 L378.0 54.0 L378.0 54.0 L388.5 54.0 L388.5 53.5 L399.0 53.5 L399.0 54.0 L409.5 54.0 L409.5 54.5 L420.0 54.5 L420.0 53.0 L430.5 53.0 L430.5 54.5 L441.0 54.5 L441.0 53.5 L451.5 53.5 L451.5 53.0 L462.0 53.0 L462.0 55.0 L472.5 55.0 L472.5 53.5 L483.0 53.5 L483.0 54.0 L493.5 54.0 L493.5 54.0 L504.0 54.0 L504.0 53.5 L514.5 53.5 L514.5 54.0 L525.0 54.0 L525.0 53.5 L535.5 53.5 L535.5 53.0 L546.0 53.0 L546.0 53.5 L556.5 53.5 L556.5 54.5 L567.0 54.5 L567.0 54.5 L577.5 54.5 L577.5 54.0 L588.0 54.0 L588.0 53.5 L598.5 53.5 L598.5 53.5 L609.0 53.5 L609.0 53.0 L619.5 53.0 L619.5 53.0 L630.0 53.0 L630.0 53.5 L640.5 53.5 L640.5 53.5 L651.0 53.5 L651.0 53.5 L661.5 53.5 L661.5 53.5 L672.0 53.5 L672.0 54.0 L682.5 54.0 L682.5 53.0 L693.0 53.0 L693.0 52.5 L703.5 52.5 L703.5 53.5 L714.0 53.5 L714.0 54.0 L724.5 54.0 L724.5 54.0 L735.0 54.0 L735.0 52.5 L745.5 52.5 L745.5 52.5 L756.0 52.5 L756.0 54.0 L766.5 54.0 L766.5 52.5 L777.0 52.5 L777.0 53.0 L787.5 53.0 L787.5 53.0 L798.0 53.0 L798.0 52.0 L808.5 52.0 L808.5 53.0 L819.0 53.0 L819.0 53.0 L829.5 53.0 L829.5 52.5 L840.0 52.5 L840.0 52.5 L850.5 52.5 L850.5 53.0 L861.0 53.0 L861.0 52.0 L871.5 52.0 L871.5 53.0 L882.0 53.0 L882.0 54.0 L892.5 54.0 L892.5 54.5 L903.0 54.5 L903.0 54.5 L913.5 54.5 L913.5 53.0 L924.0 53.0 L924.0 54.5 L934.5 54.5 L934.5 55.0 L945.0 55.0 L945.0 55.0 L955.5 55.0 L955.5 54.0 L966.0 54.0 L966.0 53.0 L976.5 53.0 L976.5 54.0 L987.0 54.0 L987.0 54.0 L997.5 54.0 L997.5 54.0 L1008.0 54.0 L1008.0 54.0 L1018.5 54.0 L1018.5 55.0 L1029.0 55.0 L1029.0 54.0 L1039.5 54.0 L1039.5 53.5 L1050.0 53.5 L1050.0 55.0 L1060.5 55.0 L1060.5 55.0 L1071.0 55.0 L1071.0 56.0 L1073.0 56.0 L1073.0 86.0 L1080.0 86.0 L1080.0 119.0 L1076.0 119.0 L1076.0 175.0 L1063.0 175.0 L1063.0 189.5 L1059.0 189.5 L1059.0 217.5 L1053.0 217.5 L1053.0 273.0 L1046.0 273.0 L1046.0 315.0 L1039.5 315.0 L1039.5 385.5 L912.5 385.5 L912.5 413.0 L899.0 413.0 L899.0 325.0 L898.0 325.0 L887.8 408.0 L887.8 469.0 L872.0 469.0 L872.0 552.5 L872.0 552.0 L861.5 552.0 L861.5 551.0 L851.0 551.0 L851.0 552.0 L840.5 552.0 L840.5 551.0 L830.0 551.0 L830.0 553.3 L819.5 553.3 L819.5 552.0 L809.0 552.0 L809.0 552.5 L798.5 552.5 L798.5 551.0 L788.0 551.0 L788.0 553.0 L777.5 553.0 L777.5 552.5 L767.0 552.5 L767.0 552.0 L756.5 552.0 L756.5 552.5 L746.0 552.5 L746.0 553.0 L735.5 553.0 L735.5 551.0 L725.0 551.0 L725.0 552.5 L714.5 552.5 L714.5 551.0 L704.0 551.0 L704.0 553.3 L693.5 553.3 L693.5 552.0 L683.0 552.0 L683.0 553.0 L672.5 553.0 L672.5 552.0 L662.0 552.0 L662.0 551.0 L651.5 551.0 L651.5 552.0 L641.0 552.0 L641.0 552.5 L630.5 552.5 L630.5 552.0 L620.0 552.0 L620.0 553.0 L609.5 553.0 L609.5 552.0 L599.0 552.0 L599.0 553.0 L588.5 553.0 L588.5 552.0 L578.0 552.0 L578.0 552.5 L567.5 552.5 L567.5 551.0 L557.0 551.0 L557.0 553.0 L546.5 553.0 L546.5 553.3 L536.0 553.3 L536.0 552.0 L525.5 552.0 L525.5 552.0 L515.0 552.0 L515.0 551.0 L504.5 551.0 L504.5 552.5 L494.0 552.5 L494.0 551.0 L483.5 551.0 L483.5 552.0 L473.0 552.0 L473.0 552.0 L462.5 552.0 L462.5 553.0 L452.0 553.0 L452.0 553.0 L441.5 553.0 L441.5 552.0 L431.0 552.0 L431.0 552.0 L420.5 552.0 L420.5 552.0 L410.0 552.0 L410.0 552.0 L399.5 552.0 L399.5 553.3 L389.0 553.3 L389.0 553.0 L378.5 553.0 L378.5 551.0 L368.0 551.0 L368.0 552.0 L357.5 552.0 L357.5 553.3 L347.0 553.3 L347.0 552.0 L336.5 552.0 L336.5 552.0 L326.0 552.0 L326.0 552.0 L315.5 552.0 L315.5 551.0 L305.0 551.0 L305.0 553.3 L294.5 553.3 L294.5 552.0 L284.0 552.0 L284.0 553.3 L273.5 553.3 L273.5 553.3 L263.0 553.3 L263.0 552.0 L252.5 552.0 L252.5 552.5 L242.0 552.5 L242.0 552.0 L231.5 552.0 L231.5 553.3 L221.0 553.3 L221.0 551.0 L216.3 551.0 L216.3 552.0 L214.0 365.0 L206.0 365.0 L188.5 170.0 L188.5 87.0 L193.5 87.0 L208.0 223.0 L209.8 223.0Z"/></clipPath><linearGradient id="cbg" x1="0" y1="0" x2="0" y2="1"><stop offset="0" stop-color="#f00"/><stop offset=".2" stop-color="#ff0"/><stop offset=".4" stop-color="#0f0"/><stop offset=".6" stop-color="#0ff"/><stop offset=".8" stop-color="#00f"/><stop offset="1" stop-color="#f0f"/></linearGradient></defs>
<rect width="100%" height="100%" fill="#fff"/>
<g clip-path="url(#hm)">
<rect x="186" y="80" width="30" height="290" fill="url(#sl)"/>
<rect x="209.7" y="50" width="11.1" height="506" fill="url(#c0)"/>
<rect x="220.2" y="50" width="11.1" height="506" fill="url(#c1)"/>
<rect x="230.7" y="50" width="11.1" height="506" fill="url(#c2)"/>
<rect x="241.2" y="50" width="11.1" height="506" fill="url(#c3)"/>
<rect x="251.7" y="50" width="11.1" height="506" fill="url(#c4)"/>
<rect x="262.2" y="50" width="11.1" height="506" fill="url(#c5)"/>
<rect x="272.7" y="50" width="11.1" height="506" fill="url(#c6)"/>
<rect x="283.2" y="50" width="11.1" height="506" fill="url(#c7)"/>
<rect x="293.7" y="50" width="11.1" height="506" fill="url(#c8)"/>
<rect x="304.2" y="50" width="11.1" height="506" fill="url(#c9)"/>
<rect x="314.7" y="50" width="11.1" height="506" fill="url(#c10)"/>
<rect x="325.2" y="50" width="11.1" height="506" fill="url(#c11)"/>
<rect x="335.7" y="50" width="11.1" height="506" fill="url(#c12)"/>
<rect x="346.2" y="50" width="11.1" height="506" fill="url(#c13)"/>
<rect x="356.7" y="50" width="11.1" height="506" fill="url(#c14)"/>
<rect x="367.2" y="50" width="11.1" height="506" fill="url(#c15)"/>
<rect x="377.7" y="50" width="11.1" height="506" fill="url(#c16)"/>
<rect x="388.2" y="50" width="11.1" height="506" fill="url(#c17)"/>
<rect x="398.7" y="50" width="11.1" height="506" fill="url(#c18)"/>
<rect x="409.2" y="50" width="11.1" height="506" fill="url(#c19)"/>
<rect x="419.7" y="50" width="11.1" height="506" fill="url(#c20)"/>
<rect x="430.2" y="50" width="11.1" height="506" fill="url(#c21)"/>
<rect x="440.7" y="50" width="11.1" height="506" fill="url(#c22)"/>
<rect x="451.2" y="50" width="11.1" height="506" fill="url(#c23)"/>
<rect x="461.7" y="50" width="11.1" height="506" fill="url(#c24)"/>
<rect x="472.2" y="50" width="11.1" height="506" fill="url(#c25)"/>
<rect x="482.7" y="50" width="11.1" height="506" fill="url(#c26)"/>
<rect x="493.2" y="50" width="11.1" height="506" fill="url(#c27)"/>
<rect x="503.7" y="50" width="11.1" height="506" fill="url(#c28)"/>
<rect x="514.2" y="50" width="11.1" height="506" fill="url(#c29)"/>
<rect x="524.7" y="50" width="11.1" height="506" fill="url(#c30)"/>
<rect x="535.2" y="50" width="11.1" height="506" fill="url(#c31)"/>
<rect x="545.7" y="50" width="11.1" height="506" fill="url(#c32)"/>
<rect x="556.2" y="50" width="11.1" height="506" fill="url(#c33)"/>
<rect x="566.7" y="50" width="11.1" height="506" fill="url(#c34)"/>
<rect x="577.2" y="50" width="11.1" height="506" fill="url(#c35)"/>
<rect x="587.7" y="50" width="11.1" height="506" fill="url(#c36)"/>
<rect x="598.2" y="50" width="11.1" height="506" fill="url(#c37)"/>
<rect x="608.7" y="50" width="11.1" height="506" fill="url(#c38)"/>
<rect x="619.2" y="50" width="11.1" height="506" fill="url(#c39)"/>
<rect x="629.7" y="50" width="11.1" height="506" fill="url(#c40)"/>
<rect x="640.2" y="50" width="11.1" height="506" fill="url(#c41)"/>
<rect x="650.7" y="50" width="11.1" height="506" fill="url(#c42)"/>
<rect x="661.2" y="50" width="11.1" height="506" fill="url(#c43)"/>
<rect x="671.7" y="50" width="11.1" height="506" fill="url(#c44)"/>
<rect x="682.2" y="50" width="11.1" height="506" fill="url(#c45)"/>
<rect x="692.7" y="50" width="11.1" height="506" fill="url(#c46)"/>
<rect x="703.2" y="50" width="11.1" height="506" fill="url(#c47)"/>
<rect x="713.7" y="50" width="11.1" height="506" fill="url(#c48)"/>
<rect x="724.2" y="50" width="11.1" height="506" fill="url(#c49)"/>
<rect x="734.7" y="50" width="11.1" height="506" fill="url(#c50)"/>
<rect x="745.2" y="50" width="11.1" height="506" fill="url(#c51)"/>
<rect x="755.7" y="50" width="11.1" height="506" fill="url(#c52)"/>
<rect x="766.2" y="50" width="11.1" height="506" fill="url(#c53)"/>
<rect x="776.7" y="50" width="11.1" height="506" fill="url(#c54)"/>
<rect x="787.2" y="50" width="11.1" height="506" fill="url(#c55)"/>
<rect x="797.7" y="50" width="11.1" height="506" fill="url(#c56)"/>
<rect x="808.2" y="50" width="11.1" height="506" fill="url(#c57)"/>
<rect x="818.7" y="50" width="11.1" height="506" fill="url(#c58)"/>
<rect x="829.2" y="50" width="11.1" height="506" fill="url(#c59)"/>
<rect x="839.7" y="50" width="11.1" height="506" fill="url(#c60)"/>
<rect x="850.2" y="50" width="11.1" height="506" fill="url(#c61)"/>
<rect x="860.7" y="50" width="11.1" height="506" fill="url(#c62)"/>
<rect x="871.2" y="50" width="13.4" height="506" fill="url(#c63)"/>
<rect x="883.7" y="50" width="7.5" height="506" fill="url(#c64)"/>
<rect x="890.6" y="50" width="7.5" height="506" fill="url(#c65)"/>
<rect x="897.5" y="50" width="7.5" height="506" fill="url(#c66)"/>
<rect x="904.4" y="50" width="7.5" height="506" fill="url(#c67)"/>
<rect x="911.3" y="50" width="7.5" height="506" fill="url(#c68)"/>
<rect x="918.2" y="50" width="7.5" height="506" fill="url(#c69)"/>
<rect x="925.1" y="50" width="7.5" height="506" fill="url(#c70)"/>
<rect x="932.0" y="50" width="7.5" height="506" fill="url(#c71)"/>
<rect x="938.9" y="50" width="7.5" height="506" fill="url(#c72)"/>
<rect x="945.8" y="50" width="7.5" height="506" fill="url(#c73)"/>
<rect x="952.7" y="50" width="7.5" height="506" fill="url(#c74)"/>
<rect x="959.6" y="50" width="7.5" height="506" fill="url(#c75)"/>
<rect x="966.5" y="50" width="7.5" height="506" fill="url(#c76)"/>
<rect x="973.4" y="50" width="7.5" height="506" fill="url(#c77)"/>
<rect x="980.3" y="50" width="7.5" height="506" fill="url(#c78)"/>
<rect x="987.2" y="50" width="7.5" height="506" fill="url(#c79)"/>
<rect x="994.1" y="50" width="7.5" height="506" fill="url(#c80)"/>
<rect x="1001.0" y="50" width="7.5" height="506" fill="url(#c81)"/>
<rect x="1007.9" y="50" width="7.5" height="506" fill="url(#c82)"/>
<rect x="1014.8" y="50" width="7.5" height="506" fill="url(#c83)"/>
<rect x="1021.7" y="50" width="7.5" height="506" fill="url(#c84)"/>
<rect x="1028.6" y="50" width="7.5" height="506" fill="url(#c85)"/>
<rect x="1035.5" y="50" width="7.5" height="506" fill="url(#c86)"/>
<rect x="1042.4" y="50" width="7.5" height="506" fill="url(#c87)"/>
<rect x="1049.3" y="50" width="7.5" height="506" fill="url(#c88)"/>
<rect x="1056.2" y="50" width="7.5" height="506" fill="url(#c89)"/>
<rect x="1063.1" y="50" width="7.5" height="506" fill="url(#c90)"/>
<rect x="1070.0" y="50" width="7.5" height="506" fill="url(#c91)"/>
<rect x="1076.9" y="50" width="3.9" height="506" fill="url(#c92)"/>
<rect x="826" y="476" width="9.5" height="80" fill="url(#bl1)"/>
<rect x="858.5" y="477" width="13.5" height="80" fill="url(#bl2)"/>
<rect x="872" y="425" width="6" height="44" fill="url(#bl3)"/>
<rect x="1064" y="86" width="17" height="34" fill="#1408ff"/>
<polygon points="481.0,240.0 484.4,248.0 487.0,323.3 483.6,317.3" fill="#00ff20" fill-opacity="0.22"/>
<polygon points="564.2,415.2 563.5,486.8 558.9,486.8" fill="#a0ff00" fill-opacity="0.19"/>
<polygon points="736.0,445.9 741.5,453.9 738.6,556.0 733.1,550.0" fill="#00f030" fill-opacity="0.21"/>
<polygon points="773.6,288.6 778.5,471.7 774.1,471.7" fill="#00f030" fill-opacity="0.15"/>
<polygon points="244.0,365.3 247.7,373.3 252.1,480.6 248.3,474.6" fill="#d8ff00" fill-opacity="0.17"/>
<polygon points="806.6,381.9 805.6,556.0 801.8,556.0" fill="#00ff60" fill-opacity="0.22"/>
<polygon points="505.8,493.7 510.0,501.7 506.8,556.0 502.5,550.0" fill="#d8ff00" fill-opacity="0.10"/>
<polygon points="526.8,456.9 524.6,527.4 520.6,527.4" fill="#00ff20" fill-opacity="0.20"/>
<polygon points="466.0,217.5 471.6,225.5 476.4,330.2 470.7,324.2" fill="#c0ff00" fill-opacity="0.17"/>
<polygon points="573.8,458.8 576.5,535.2 570.7,535.2" fill="#d8ff00" fill-opacity="0.12"/>
<polygon points="782.7,379.9 787.4,387.9 786.4,537.0 781.8,531.0" fill="#00ff60" fill-opacity="0.12"/>
<polygon points="410.2,516.9 416.8,556.0 411.1,556.0" fill="#00ff20" fill-opacity="0.22"/>
<polygon points="739.5,466.1 744.8,474.1 741.7,541.4 736.3,535.4" fill="#d8ff00" fill-opacity="0.18"/>
<polygon points="223.3,461.4 223.6,556.0 219.8,556.0" fill="#00f030" fill-opacity="0.16"/>
<polygon points="749.8,357.0 752.4,365.0 751.1,440.6 748.5,434.6" fill="#00f030" fill-opacity="0.22"/>
<polygon points="367.0,468.8 365.6,556.0 360.6,556.0" fill="#00ff20" fill-opacity="0.13"/>
<polygon points="746.9,406.0 750.4,414.0 752.9,498.5 749.4,492.5" fill="#d8ff00" fill-opacity="0.24"/>
<polygon points="492.2,487.7 495.9,556.0 492.3,556.0" fill="#00ff20" fill-opacity="0.23"/>
<polygon points="565.8,495.4 571.4,503.4 570.5,556.0 564.9,550.0" fill="#a0ff00" fill-opacity="0.13"/>
<polygon points="464.6,407.4 469.1,556.0 464.4,556.0" fill="#c0ff00" fill-opacity="0.16"/>
<polygon points="798.2,290.9 803.1,298.9 807.8,437.6 802.8,431.6" fill="#00ff60" fill-opacity="0.24"/>
<polygon points="654.1,446.3 658.6,540.3 654.6,540.3" fill="#c0ff00" fill-opacity="0.17"/>
<polygon points="781.3,399.8 785.6,407.8 782.6,460.3 778.3,454.3" fill="#a0ff00" fill-opacity="0.15"/>
<polygon points="657.0,431.6 659.1,513.4 653.8,513.4" fill="#c0ff00" fill-opacity="0.14"/>
<polygon points="774.6,315.9 779.2,323.9 781.9,448.7 777.2,442.7" fill="#a0ff00" fill-opacity="0.22"/>
<polygon points="347.4,177.2 350.0,250.9 346.4,250.9" fill="#d8ff00" fill-opacity="0.17"/>
<polygon points="458.2,365.0 462.8,373.0 460.7,548.3 456.2,542.3" fill="#d8ff00" fill-opacity="0.26"/>
<polygon points="736.6,309.5 735.0,391.8 730.8,391.8" fill="#c0ff00" fill-opacity="0.24"/>
<polygon points="785.4,413.1 789.8,421.1 792.0,523.7 787.5,517.7" fill="#00ff20" fill-opacity="0.14"/>
<polygon points="395.5,370.4 400.7,546.1 396.8,546.1" fill="#00f030" fill-opacity="0.19"/>
<polygon points="626.6,490.6 632.5,498.6 632.8,556.0 626.9,550.0" fill="#00f030" fill-opacity="0.18"/>
<polygon points="291.4,448.7 288.8,518.1 284.0,518.1" fill="#a0ff00" fill-opacity="0.14"/>
<polygon points="223.9,281.7 226.9,289.7 231.1,375.7 228.1,369.7" fill="#00f030" fill-opacity="0.11"/>
<polygon points="440.6,250.5 441.5,408.7 438.5,408.7" fill="#00f030" fill-opacity="0.14"/>
<polygon points="339.6,339.6 344.4,347.6 340.1,435.1 335.3,429.1" fill="#c0ff00" fill-opacity="0.22"/>
<polygon points="329.9,293.8 334.5,478.6 330.2,478.6" fill="#d8ff00" fill-opacity="0.22"/>
<polygon points="757.2,222.6 762.4,230.6 763.9,293.8 758.7,287.8" fill="#c0ff00" fill-opacity="0.16"/>
<polygon points="729.2,251.0 728.7,390.1 722.8,390.1" fill="#d8ff00" fill-opacity="0.24"/>
<polygon points="747.0,322.6 752.1,330.6 748.5,422.6 743.5,416.6" fill="#a0ff00" fill-opacity="0.22"/>
<polygon points="224.2,301.9 228.6,450.6 225.8,450.6" fill="#c0ff00" fill-opacity="0.19"/>
<polygon points="696.9,380.9 702.4,388.9 699.0,556.0 693.5,550.0" fill="#c0ff00" fill-opacity="0.22"/>
<polygon points="460.8,279.7 460.7,345.6 456.8,345.6" fill="#c0ff00" fill-opacity="0.12"/>
<polygon points="223.4,270.0 226.9,278.0 226.8,402.3 223.3,396.3" fill="#d8ff00" fill-opacity="0.11"/>
<polygon points="323.6,409.2 329.0,556.0 324.2,556.0" fill="#d8ff00" fill-opacity="0.16"/>
<polygon points="393.6,249.3 398.4,257.3 401.1,328.9 396.2,322.9" fill="#00ff20" fill-opacity="0.22"/>
<polygon points="490.9,420.5 491.5,556.0 488.4,556.0" fill="#d8ff00" fill-opacity="0.13"/>
<polygon points="641.0,227.3 645.0,235.3 645.6,361.1 641.6,355.1" fill="#d8ff00" fill-opacity="0.23"/>
<polygon points="302.4,503.7 307.6,556.0 304.9,556.0" fill="#c0ff00" fill-opacity="0.19"/>
<polygon points="498.5,171.1 502.8,179.1 507.1,314.8 502.9,308.8" fill="#00f030" fill-opacity="0.11"/>
<polygon points="601.9,289.5 600.6,366.6 594.9,366.6" fill="#a0ff00" fill-opacity="0.13"/>
<polygon points="697.3,339.6 700.1,347.6 701.2,492.6 698.4,486.6" fill="#c0ff00" fill-opacity="0.12"/>
<polygon points="700.2,256.9 703.4,426.3 700.0,426.3" fill="#a0ff00" fill-opacity="0.25"/>
<polygon points="774.0,197.0 777.3,205.0 779.3,288.3 776.0,282.3" fill="#00f030" fill-opacity="0.18"/>
<polygon points="263.5,257.7 262.3,417.4 258.6,417.4" fill="#d8ff00" fill-opacity="0.25"/>
<polygon points="502.5,280.3 507.3,288.3 504.2,460.6 499.4,454.6" fill="#00ff20" fill-opacity="0.10"/>
<polygon points="563.9,238.7 564.3,346.1 561.2,346.1" fill="#00ff20" fill-opacity="0.18"/>
<polygon points="346.0,189.5 349.7,197.5 346.1,374.1 342.4,368.1" fill="#d8ff00" fill-opacity="0.23"/>
<polygon points="465.0,295.6 467.3,396.9 463.5,396.9" fill="#d8ff00" fill-opacity="0.10"/>
<polygon points="331.4,247.7 336.6,255.7 332.3,388.4 327.1,382.4" fill="#d8ff00" fill-opacity="0.17"/>
<polygon points="647.3,198.3 649.8,368.1 644.8,368.1" fill="#a0ff00" fill-opacity="0.24"/>
<polygon points="719.6,486.5 724.6,494.5 727.7,556.0 722.7,550.0" fill="#00ff20" fill-opacity="0.18"/>
<polygon points="258.3,181.6 258.3,276.3 253.6,276.3" fill="#00ff20" fill-opacity="0.20"/>
<polygon points="375.5,324.8 378.0,332.8 380.5,442.6 377.9,436.6" fill="#d8ff00" fill-opacity="0.22"/>
<polygon points="296.0,176.2 302.0,300.4 296.2,300.4" fill="#00f030" fill-opacity="0.17"/>
<polygon points="825.7,282.3 830.4,290.3 830.7,471.8 826.1,465.8" fill="#00ff60" fill-opacity="0.25"/>
<polygon points="477.3,242.9 481.5,379.8 478.0,379.8" fill="#00ff20" fill-opacity="0.26"/>
<polygon points="271.8,176.9 276.6,184.9 280.2,310.1 275.5,304.1" fill="#c0ff00" fill-opacity="0.17"/>
<polygon points="650.9,375.2 650.6,437.5 647.7,437.5" fill="#c0ff00" fill-opacity="0.21"/>
<polygon points="867.6,174.5 873.4,182.5 871.3,290.3 865.5,284.3" fill="#00ff60" fill-opacity="0.23"/>
<polygon points="669.1,519.4 674.0,556.0 671.1,556.0" fill="#00f030" fill-opacity="0.16"/>
<polygon points="279.2,264.1 282.5,272.1 287.4,392.6 284.0,386.6" fill="#c0ff00" fill-opacity="0.22"/>
<polygon points="693.3,182.3 694.4,320.9 691.7,320.9" fill="#c0ff00" fill-opacity="0.24"/>
<polygon points="608.1,246.1 613.3,254.1 611.4,435.7 606.2,429.7" fill="#00f030" fill-opacity="0.14"/>
<polygon points="381.9,234.5 383.6,331.3 380.5,331.3" fill="#a0ff00" fill-opacity="0.14"/>
<polygon points="448.9,350.6 452.9,358.6 449.4,440.1 445.4,434.1" fill="#d8ff00" fill-opacity="0.15"/>
<polygon points="731.2,309.8 728.4,473.0 725.8,473.0" fill="#00f030" fill-opacity="0.12"/>
<polygon points="219.1,474.3 222.5,482.3 219.4,545.7 216.1,539.7" fill="#c0ff00" fill-opacity="0.22"/>
<polygon points="680.5,230.6 678.8,362.8 674.0,362.8" fill="#d8ff00" fill-opacity="0.15"/>
<polygon points="849.5,246.3 853.8,254.3 853.2,358.9 848.9,352.9" fill="#00ff20" fill-opacity="0.18"/>
<polygon points="620.5,246.4 624.9,323.4 619.9,323.4" fill="#a0ff00" fill-opacity="0.25"/>
<polygon points="815.5,467.8 820.2,475.8 821.3,556.0 816.6,550.0" fill="#00f030" fill-opacity="0.25"/>
<polygon points="612.1,365.1 615.1,519.8 609.7,519.8" fill="#d8ff00" fill-opacity="0.10"/>
<polygon points="605.3,223.5 608.1,231.5 606.3,340.2 603.5,334.2" fill="#a0ff00" fill-opacity="0.15"/>
<polygon points="454.1,363.7 452.7,513.8 447.5,513.8" fill="#a0ff00" fill-opacity="0.15"/>
<polygon points="654.2,290.1 657.2,298.1 654.0,375.9 650.9,369.9" fill="#d8ff00" fill-opacity="0.18"/>
<polygon points="497.2,360.4 502.9,469.8 498.3,469.8" fill="#00f030" fill-opacity="0.14"/>
<polygon points="818.5,513.6 821.2,521.6 823.1,556.0 820.3,550.0" fill="#00ff60" fill-opacity="0.16"/>
<polygon points="421.6,252.9 421.9,329.1 417.1,329.1" fill="#00ff20" fill-opacity="0.17"/>
<polygon points="300.6,403.4 303.5,411.4 308.2,556.0 305.3,550.0" fill="#d8ff00" fill-opacity="0.19"/>
<polygon points="567.0,219.8 566.9,333.3 562.4,333.3" fill="#00f030" fill-opacity="0.22"/>
<polygon points="276.7,507.6 280.9,515.6 280.7,556.0 276.4,550.0" fill="#d8ff00" fill-opacity="0.18"/>
<polygon points="413.8,442.8 418.4,556.0 415.4,556.0" fill="#d8ff00" fill-opacity="0.25"/>
<polygon points="584.4,215.1 590.3,223.1 593.1,358.7 587.1,352.7" fill="#a0ff00" fill-opacity="0.26"/>
<polygon points="258.4,459.9 260.8,556.0 255.0,556.0" fill="#a0ff00" fill-opacity="0.22"/>
<polygon points="541.8,421.4 544.4,429.4 541.6,509.5 539.0,503.5" fill="#00f030" fill-opacity="0.13"/>
<polygon points="298.4,471.4 303.8,556.0 299.7,556.0" fill="#d8ff00" fill-opacity="0.22"/>
<polygon points="689.8,181.4 692.5,189.4 689.9,248.8 687.3,242.8" fill="#00f030" fill-opacity="0.24"/>
<polygon points="831.5,344.4 835.7,422.1 831.2,422.1" fill="#00ff60" fill-opacity="0.21"/>
<polygon points="236.9,285.4 241.3,293.4 238.3,452.4 233.9,446.4" fill="#00f030" fill-opacity="0.25"/>
<polygon points="389.1,349.4 392.6,471.6 389.8,471.6" fill="#00ff20" fill-opacity="0.25"/>
<polygon points="415.0,170.0 420.9,178.0 422.9,252.4 417.0,246.4" fill="#c0ff00" fill-opacity="0.13"/>
<polygon points="658.4,504.2 663.5,556.0 660.4,556.0" fill="#00ff20" fill-opacity="0.14"/>
<polygon points="474.1,310.4 477.9,318.4 474.6,485.3 470.7,479.3" fill="#c0ff00" fill-opacity="0.19"/>
<polygon points="520.8,427.5 523.9,550.1 520.3,550.1" fill="#00ff20" fill-opacity="0.19"/>
<polygon points="669.1,186.9 674.0,194.9 670.5,298.8 665.7,292.8" fill="#00f030" fill-opacity="0.13"/>
<polygon points="293.2,410.7 296.1,556.0 290.9,556.0" fill="#00ff20" fill-opacity="0.26"/>
<polygon points="677.8,201.3 683.0,209.3 686.0,388.0 680.8,382.0" fill="#00f030" fill-opacity="0.13"/>
<polygon points="376.4,312.6 375.1,496.7 371.4,496.7" fill="#d8ff00" fill-opacity="0.11"/>
<polygon points="524.8,245.3 528.8,253.3 528.9,432.2 524.9,426.2" fill="#c0ff00" fill-opacity="0.20"/>
<polygon points="867.1,320.0 866.9,493.4 862.8,493.4" fill="#00ff60" fill-opacity="0.20"/>
<polygon points="310.1,369.0 313.0,377.0 312.9,518.9 309.9,512.9" fill="#00f030" fill-opacity="0.17"/>
<polygon points="514.2,351.5 515.5,489.1 511.9,489.1" fill="#00f030" fill-opacity="0.22"/>
<polygon points="533.4,507.7 537.5,515.7 533.7,556.0 529.6,550.0" fill="#00f030" fill-opacity="0.10"/>
<polygon points="502.0,501.3 500.8,556.0 495.7,556.0" fill="#d8ff00" fill-opacity="0.25"/>
<polygon points="575.4,503.1 581.3,511.1 576.3,556.0 570.4,550.0" fill="#c0ff00" fill-opacity="0.19"/>
<polygon points="339.9,504.1 340.0,556.0 336.6,556.0" fill="#d8ff00" fill-opacity="0.25"/>
<polygon points="719.2,183.6 723.8,191.6 720.8,272.2 716.2,266.2" fill="#a0ff00" fill-opacity="0.22"/>
<polygon points="336.6,262.5 342.7,368.3 338.9,368.3" fill="#00ff20" fill-opacity="0.14"/>
<polygon points="227.4,328.2 233.3,336.2 236.5,409.9 230.6,403.9" fill="#c0ff00" fill-opacity="0.23"/>
<polygon points="478.4,449.0 479.5,556.0 474.0,556.0" fill="#00f030" fill-opacity="0.15"/>
<polygon points="413.8,395.6 416.4,403.6 411.7,539.9 409.1,533.9" fill="#a0ff00" fill-opacity="0.20"/>
<polygon points="433.8,513.3 440.0,556.0 436.0,556.0" fill="#00ff20" fill-opacity="0.21"/>
<polygon points="823.7,171.2 827.5,179.2 825.8,279.7 822.1,273.7" fill="#00ff20" fill-opacity="0.25"/>
<polygon points="818.0,482.9 816.4,556.0 813.0,556.0" fill="#00ff60" fill-opacity="0.21"/>
<polygon points="763.9,506.5 768.7,514.5 764.4,556.0 759.6,550.0" fill="#00ff60" fill-opacity="0.21"/>
<polygon points="289.1,306.1 288.2,407.8 284.9,407.8" fill="#c0ff00" fill-opacity="0.19"/>
<polygon points="742.8,308.8 745.3,316.8 743.7,478.3 741.2,472.3" fill="#c0ff00" fill-opacity="0.16"/>
<polygon points="542.4,447.7 547.8,529.7 542.8,529.7" fill="#d8ff00" fill-opacity="0.21"/>
<polygon points="317.8,276.8 320.8,284.8 317.2,382.8 314.2,376.8" fill="#00ff20" fill-opacity="0.19"/>
<polygon points="378.2,494.0 384.2,556.0 380.8,556.0" fill="#a0ff00" fill-opacity="0.11"/>
<polygon points="583.2,170.4 586.4,178.4 586.3,307.3 583.1,301.3" fill="#00ff20" fill-opacity="0.12"/>
<polygon points="620.1,512.4 621.0,556.0 617.8,556.0" fill="#a0ff00" fill-opacity="0.17"/>
<polygon points="489.1,472.3 494.9,480.3 498.8,556.0 493.0,550.0" fill="#00ff20" fill-opacity="0.18"/>
<polygon points="685.0,476.1 684.6,556.0 679.4,556.0" fill="#a0ff00" fill-opacity="0.21"/>
<polygon points="241.0,181.0 246.5,189.0 245.9,266.7 240.4,260.7" fill="#d8ff00" fill-opacity="0.11"/>
<polygon points="226.3,200.7 229.9,270.4 227.1,270.4" fill="#00ff20" fill-opacity="0.23"/>
<polygon points="752.8,442.7 756.6,450.7 752.1,525.4 748.3,519.4" fill="#c0ff00" fill-opacity="0.18"/>
<polygon points="552.3,282.2 551.9,352.1 548.8,352.1" fill="#00ff20" fill-opacity="0.20"/>
<polygon points="634.4,405.1 638.8,413.1 641.3,470.9 636.9,464.9" fill="#c0ff00" fill-opacity="0.20"/>
<polygon points="288.6,471.0 285.6,556.0 282.3,556.0" fill="#00f030" fill-opacity="0.23"/>
<polygon points="735.6,233.9 740.3,241.9 743.7,310.9 739.0,304.9" fill="#a0ff00" fill-opacity="0.25"/>
<polygon points="777.4,198.1 782.8,289.6 777.4,289.6" fill="#a0ff00" fill-opacity="0.10"/>
<polygon points="620.8,407.4 624.2,415.4 625.0,526.4 621.5,520.4" fill="#00ff20" fill-opacity="0.18"/>
<polygon points="301.2,439.7 307.7,556.0 303.4,556.0" fill="#00f030" fill-opacity="0.22"/>
<polygon points="736.1,382.8 739.1,390.8 742.8,456.9 739.8,450.9" fill="#d8ff00" fill-opacity="0.13"/>
<polygon points="370.5,476.1 375.4,552.4 370.8,552.4" fill="#00ff20" fill-opacity="0.23"/>
<polygon points="401.0,235.0 406.7,243.0 402.2,342.0 396.5,336.0" fill="#a0ff00" fill-opacity="0.13"/>
<polygon points="550.0,258.2 554.3,335.5 551.3,335.5" fill="#00ff20" fill-opacity="0.19"/>
<polygon points="519.8,228.9 523.2,236.9 524.9,337.4 521.5,331.4" fill="#00ff20" fill-opacity="0.14"/>
<polygon points="548.7,205.6 547.4,370.4 542.5,370.4" fill="#00ff20" fill-opacity="0.20"/>
<polygon points="517.3,472.2 523.1,480.2 521.1,554.7 515.4,548.7" fill="#d8ff00" fill-opacity="0.18"/>
<polygon points="399.9,467.6 405.4,529.4 399.6,529.4" fill="#a0ff00" fill-opacity="0.19"/>
<polygon points="584.3,218.7 589.8,226.7 590.9,377.6 585.4,371.6" fill="#a0ff00" fill-opacity="0.16"/>
<polygon points="318.4,178.5 321.5,305.0 317.4,305.0" fill="#00f030" fill-opacity="0.15"/>
<polygon points="547.7,491.8 553.3,499.8 555.7,556.0 550.1,550.0" fill="#d8ff00" fill-opacity="0.20"/>
<polygon points="514.5,471.3 514.4,556.0 511.0,556.0" fill="#d8ff00" fill-opacity="0.20"/>
<polygon points="294.3,226.5 297.8,234.5 298.4,318.2 294.9,312.2" fill="#c0ff00" fill-opacity="0.19"/>
<polygon points="734.0,278.2 739.8,387.9 734.9,387.9" fill="#d8ff00" fill-opacity="0.13"/>
<polygon points="602.9,199.3 606.9,207.3 608.1,283.2 604.1,277.2" fill="#c0ff00" fill-opacity="0.19"/>
<polygon points="801.1,453.4 800.8,524.2 798.1,524.2" fill="#00f030" fill-opacity="0.12"/>
<polygon points="758.7,495.0 762.0,503.0 760.0,556.0 756.6,550.0" fill="#c0ff00" fill-opacity="0.24"/>
<polygon points="736.6,285.6 737.1,401.7 732.6,401.7" fill="#c0ff00" fill-opacity="0.17"/>
<polygon points="703.6,219.6 707.0,227.6 705.7,340.0 702.3,334.0" fill="#00f030" fill-opacity="0.16"/>
<polygon points="623.3,186.1 620.9,309.9 616.1,309.9" fill="#00f030" fill-opacity="0.19"/>
<polygon points="658.5,497.6 664.0,505.6 663.1,556.0 657.6,550.0" fill="#d8ff00" fill-opacity="0.13"/>
<polygon points="265.6,356.5 264.4,467.0 261.4,467.0" fill="#00f030" fill-opacity="0.20"/>
<polygon points="811.0,400.4 815.5,408.4 816.2,551.0 811.7,545.0" fill="#00f030" fill-opacity="0.11"/>
<polygon points="345.8,364.5 345.0,542.3 339.4,542.3" fill="#00ff20" fill-opacity="0.19"/>
<polygon points="343.9,297.5 347.4,305.5 346.1,389.6 342.6,383.6" fill="#00f030" fill-opacity="0.25"/>
<polygon points="659.4,225.0 665.7,415.0 662.9,415.0" fill="#a0ff00" fill-opacity="0.18"/>
<polygon points="559.0,487.5 564.4,495.5 564.1,556.0 558.7,550.0" fill="#d8ff00" fill-opacity="0.18"/>
<polygon points="318.8,270.8 317.5,413.1 313.9,413.1" fill="#00ff20" fill-opacity="0.19"/>
<polygon points="589.5,376.6 592.7,384.6 596.4,488.2 593.2,482.2" fill="#00f030" fill-opacity="0.18"/>
<polygon points="358.1,420.4 359.6,542.2 356.6,542.2" fill="#00f030" fill-opacity="0.26"/>
<polygon points="609.8,427.8 612.8,435.8 615.3,556.0 612.3,550.0" fill="#c0ff00" fill-opacity="0.16"/>
<polygon points="750.5,258.9 748.4,438.1 745.5,438.1" fill="#00ff20" fill-opacity="0.14"/>
<polygon points="523.8,239.5 529.3,247.5 527.4,357.1 521.9,351.1" fill="#a0ff00" fill-opacity="0.18"/>
<polygon points="634.0,422.5 637.4,489.3 633.6,489.3" fill="#c0ff00" fill-opacity="0.15"/>
<polygon points="216.0,411.2 218.6,419.2 218.8,527.3 216.2,521.3" fill="#00f030" fill-opacity="0.22"/>
<polygon points="770.0,474.5 772.2,556.0 769.5,556.0" fill="#00ff60" fill-opacity="0.20"/>
<polygon points="308.7,207.9 312.4,215.9 307.8,272.9 304.0,266.9" fill="#00ff20" fill-opacity="0.24"/>
<polygon points="313.2,197.3 315.3,342.6 311.8,342.6" fill="#a0ff00" fill-opacity="0.24"/>
<polygon points="558.1,275.4 563.7,283.4 560.9,348.2 555.3,342.2" fill="#c0ff00" fill-opacity="0.23"/>
<polygon points="453.0,205.8 458.1,392.1 454.7,392.1" fill="#d8ff00" fill-opacity="0.13"/>
<polygon points="762.4,376.2 765.6,384.2 767.0,500.0 763.8,494.0" fill="#a0ff00" fill-opacity="0.19"/>
<polygon points="800.0,440.4 796.6,556.0 793.6,556.0" fill="#a0ff00" fill-opacity="0.11"/>
<polygon points="790.7,290.5 794.0,298.5 794.9,408.7 791.6,402.7" fill="#00f030" fill-opacity="0.21"/>
<polygon points="331.4,344.5 333.5,448.3 328.2,448.3" fill="#d8ff00" fill-opacity="0.10"/>
<polygon points="602.3,288.7 605.7,296.7 603.7,381.7 600.4,375.7" fill="#d8ff00" fill-opacity="0.24"/>
<polygon points="597.3,194.7 600.3,358.2 595.8,358.2" fill="#c0ff00" fill-opacity="0.13"/>
<polygon points="683.5,503.7 688.1,511.7 690.3,556.0 685.8,550.0" fill="#d8ff00" fill-opacity="0.15"/>
<polygon points="843.1,326.6 841.9,478.9 838.7,478.9" fill="#00f030" fill-opacity="0.14"/>
<polygon points="767.6,265.9 773.2,273.9 769.3,412.6 763.7,406.6" fill="#00ff60" fill-opacity="0.10"/>
<polygon points="269.8,383.1 274.3,521.9 268.6,521.9" fill="#c0ff00" fill-opacity="0.14"/>
<polygon points="586.6,200.7 592.2,208.7 590.7,338.1 585.1,332.1" fill="#a0ff00" fill-opacity="0.17"/>
<polygon points="383.8,241.1 389.0,341.2 384.9,341.2" fill="#00ff20" fill-opacity="0.18"/>
<polygon points="836.3,380.7 841.4,388.7 843.4,508.3 838.3,502.3" fill="#a0ff00" fill-opacity="0.12"/>
<polygon points="357.5,425.6 364.8,556.0 359.3,556.0" fill="#00f030" fill-opacity="0.18"/>
<polygon points="413.1,276.7 416.3,284.7 412.2,363.1 409.1,357.1" fill="#d8ff00" fill-opacity="0.15"/>
<polygon points="496.9,374.7 503.2,534.2 497.6,534.2" fill="#00f030" fill-opacity="0.13"/>
<polygon points="279.3,331.6 282.0,339.6 282.6,451.5 279.9,445.5" fill="#a0ff00" fill-opacity="0.19"/>
<polygon points="765.8,246.1 767.9,320.1 764.3,320.1" fill="#a0ff00" fill-opacity="0.15"/>
<polygon points="665.9,415.9 671.2,423.9 667.4,519.0 662.1,513.0" fill="#d8ff00" fill-opacity="0.17"/>
<polygon points="796.0,241.4 794.9,326.4 790.2,326.4" fill="#a0ff00" fill-opacity="0.24"/>
<polygon points="549.1,419.4 552.7,427.4 555.9,524.2 552.4,518.2" fill="#d8ff00" fill-opacity="0.16"/>
<polygon points="390.1,192.7 391.5,321.7 386.8,321.7" fill="#c0ff00" fill-opacity="0.15"/>
<polygon points="467.8,479.8 471.7,487.8 467.6,551.0 463.7,545.0" fill="#a0ff00" fill-opacity="0.10"/>
<polygon points="771.3,477.1 776.1,556.0 773.1,556.0" fill="#00f030" fill-opacity="0.17"/>
<polygon points="259.1,234.8 262.8,242.8 263.9,356.3 260.2,350.3" fill="#00f030" fill-opacity="0.13"/>
<polygon points="532.7,211.2 531.6,286.9 526.8,286.9" fill="#00ff20" fill-opacity="0.13"/>
<polygon points="805.4,358.2 810.0,366.2 808.1,433.4 803.5,427.4" fill="#00ff60" fill-opacity="0.26"/>
<polygon points="596.3,188.3 596.3,297.3 592.7,297.3" fill="#00f030" fill-opacity="0.12"/>
<polygon points="631.0,323.9 635.1,331.9 638.4,400.1 634.4,394.1" fill="#d8ff00" fill-opacity="0.23"/>
<polygon points="216.5,261.1 214.6,451.0 211.9,451.0" fill="#00f030" fill-opacity="0.19"/>
<polygon points="427.7,412.2 431.5,420.2 431.6,501.6 427.9,495.6" fill="#00ff20" fill-opacity="0.24"/>
<polygon points="295.2,259.4 298.8,321.6 295.1,321.6" fill="#00ff20" fill-opacity="0.20"/>
<polygon points="668.7,172.6 673.6,180.6 670.4,294.3 665.5,288.3" fill="#d8ff00" fill-opacity="0.12"/>
<polygon points="473.5,451.8 480.2,556.0 474.7,556.0" fill="#00f030" fill-opacity="0.16"/>
<polygon points="861.9,292.4 864.9,300.4 862.4,394.7 859.3,388.7" fill="#00f030" fill-opacity="0.23"/>
<polygon points="253.5,447.3 251.9,556.0 247.5,556.0" fill="#a0ff00" fill-opacity="0.20"/>
<polygon points="633.1,377.1 636.1,385.1 634.1,556.0 631.1,550.0" fill="#c0ff00" fill-opacity="0.22"/>
<polygon points="262.3,217.4 269.3,362.8 264.3,362.8" fill="#a0ff00" fill-opacity="0.13"/>
<polygon points="399.4,429.9 402.0,437.9 402.5,555.6 400.0,549.6" fill="#00f030" fill-opacity="0.15"/>
<polygon points="428.8,307.8 429.1,455.9 426.0,455.9" fill="#00f030" fill-opacity="0.13"/>
<polygon points="303.6,322.1 308.1,330.1 304.1,435.7 299.6,429.7" fill="#00ff20" fill-opacity="0.16"/>
<polygon points="219.8,271.5 223.3,428.4 218.4,428.4" fill="#a0ff00" fill-opacity="0.20"/>
<polygon points="822.3,487.2 826.6,495.2 826.8,556.0 822.6,550.0" fill="#00ff20" fill-opacity="0.13"/>
<polygon points="763.3,209.9 760.5,293.6 756.2,293.6" fill="#00ff60" fill-opacity="0.14"/>
<polygon points="340.5,245.7 345.6,253.7 344.9,406.2 339.8,400.2" fill="#c0ff00" fill-opacity="0.18"/>
<polygon points="375.9,321.1 375.9,446.3 370.6,446.3" fill="#c0ff00" fill-opacity="0.25"/>
</g>
<polygon points="877.5,50 896,50 896,90 884.6,323.5 880.2,323.5 877.8,90" fill="#fff"/>
<path d="M605.6 557V537.3H611.6V557ZM484.6 557V549H495V547H505V545H516V538.6H522V557Z" fill="#fff"/>
<polyline points="626.3,546.4 636.9,510.0 646.2,537.7 655.5,501.3 655.9,513.0 655.6,502.0 664.8,510.6 665.3,523.9 666.0,510.6 674.9,502.6 674.9,535.0 675.9,507.4 684.7,507.4 685.2,520.4 686.5,509.3 694.0,485.4 694.8,488.8 703.3,452.2 705.1,464.7 712.6,433.6 713.9,437.6 716.3,423.5 724.5,433.6 726.4,448.2 735.1,420.9 745.7,451.7 755.6,399.1 757.1,402.3 765.6,401.8 767.8,413.7 776.3,400.4 778.9,418.2 786.9,431.0 790.1,404.9 796.2,398.6 798.0,401.8 800.7,385.8 809.4,373.9 808.6,384.5 812.1,388.0 810.8,373.9 818.7,351.3 822.7,344.7 823.5,338.0 829.4,316.8 829.9,323.4 832.1,300.0 835.2,279.3 838.8,268.6 839.6,274.8 846.8,277.5 848.2,275.7 851.3,286.1 857.1,276.6 856.6,273.0 862.9,266.8 867.3,252.5 872.3,239.6 894.1,279.3 896.8,270.4 898.6,235.5 903.9,278.4 906.6,272.1 914.6,211.1 917.3,225.7 920.9,280.2 925.4,245.4 925.7,276.6 928.0,238.2 932.5,240.9 935.2,277.5 938.8,244.5 942.3,257.9 946.8,241.8 949.5,257.0 951.3,247.1 953.6,257.0 957.5,255.2 957.9,243.6 963.8,239.7 965.0,231.5 966.8,227.8 967.5,224.1 970.0,222.4 973.2,203.1 974.2,190.8 979.9,182.9 981.6,188.3 985.6,199.4 994.7,139.4 999.6,165.6 1003.4,148.7 1008.3,136.4 1014.5,131.0 1015.0,127.7 1017.0,153.7 1023.6,156.2 1030.5,119.6 1036.0,119.6 1037.5,129.5 1039.9,118.6 1049.1,116.6 1051.5,133.4 1055.3,113.7 1065.1,110.4 1067.0,109.0 1068.0,110.5 1070.1,107.2 1073.0,105.5" fill="none" stroke="#000" stroke-width="2.9" stroke-linejoin="miter" stroke-miterlimit="3"/>
<circle cx="977.5" cy="306.6" r="14.8" fill="#000"/>
<g stroke="#000" fill="none">
<path d="M186.6 43.2V749.3H1092.8" stroke-width="3.5" stroke-linejoin="miter"/>
<path d="M172.3 44.0H186" stroke-width="1.7"/>
<path d="M172.3 182.2H186" stroke-width="1.7"/>
<path d="M172.3 320.4H186" stroke-width="1.7"/>
<path d="M172.3 458.6H186" stroke-width="1.7"/>
<path d="M172.3 596.8H186" stroke-width="1.7"/>
<path d="M172.3 735.2H186" stroke-width="1.7"/>
<path d="M179 113.1H186" stroke-width="1.7"/>
<path d="M179 251.4H186" stroke-width="1.7"/>
<path d="M179 389.6H186" stroke-width="1.7"/>
<path d="M179 527.8H186" stroke-width="1.7"/>
<path d="M179 666.1H186" stroke-width="1.7"/>
<path d="M186.8 749V763.5" stroke-width="1.7"/>
<path d="M488.0 749V763.5" stroke-width="1.7"/>
<path d="M789.6 749V763.5" stroke-width="1.7"/>
<path d="M1091.6 749V763.5" stroke-width="1.7"/>
<path d="M337.4 749V756.8" stroke-width="1.7"/>
<path d="M638.8 749V756.8" stroke-width="1.7"/>
<path d="M940.6 749V756.8" stroke-width="1.7"/>
</g>
<text transform="translate(159.6 55.7) scale(1.040 1)" text-anchor="end" font-size="32.8" font-family="Liberation Sans, Arial, Helvetica, sans-serif">0</text>
<text transform="translate(159.6 193.9) scale(1.040 1)" text-anchor="end" font-size="32.8" font-family="Liberation Sans, Arial, Helvetica, sans-serif">-50</text>
<text transform="translate(159.6 332.1) scale(1.040 1)" text-anchor="end" font-size="32.8" font-family="Liberation Sans, Arial, Helvetica, sans-serif">-100</text>
<text transform="translate(159.6 470.3) scale(1.040 1)" text-anchor="end" font-size="32.8" font-family="Liberation Sans, Arial, Helvetica, sans-serif">-150</text>
<text transform="translate(159.6 608.5) scale(1.040 1)" text-anchor="end" font-size="32.8" font-family="Liberation Sans, Arial, Helvetica, sans-serif">-200</text>
<text transform="translate(159.6 746.9) scale(1.040 1)" text-anchor="end" font-size="32.8" font-family="Liberation Sans, Arial, Helvetica, sans-serif">-250</text>
<polygon points="506.5,749.3 514.0,698.4 524.0,675.9 534.0,643.3 554.2,624.2 574.2,633.3 584.3,642.3 604.3,665.9 624.4,693.4 631.9,701.0 641.9,716.0 652.0,728.5 669.0,740.0 679.6,742.2 699.1,740.0 719.2,726.9 729.8,723.2 740.3,715.3 751.9,711.6 772.0,699.4 793.1,683.6 809.0,670.4 816.9,662.5 840.6,641.4 856.5,623.9 880.2,597.5 909.3,564.8 930.4,546.3 946.2,528.9 959.4,506.7 980.5,488.2 985.5,480.0 995.4,466.2 1004.7,445.3 1015.2,431.0 1022.3,414.5 1039.9,388.1 1074.5,345.3 1076.5,345.3 1076.5,749.3" fill="#bfbfbf"/>
<g stroke="#000" fill="none">
<path d="M337.4 818V1336" stroke-width="1" stroke="#2a2a2a"/>
<path d="M488.0 818V1336" stroke-width="1" stroke="#2a2a2a"/>
<path d="M638.8 818V1336" stroke-width="1" stroke="#2a2a2a"/>
<path d="M789.6 818V1336" stroke-width="1" stroke="#2a2a2a"/>
<path d="M940.6 818V1336" stroke-width="1" stroke="#2a2a2a"/>
<path d="M1091.6 818V1336" stroke-width="1" stroke="#2a2a2a"/>
<path d="M186 894.6H1091.6" stroke-width="1" stroke="#2a2a2a"/>
<path d="M186 970.8H1091.6" stroke-width="1" stroke="#2a2a2a"/>
<path d="M186 1047.0H1091.6" stroke-width="1" stroke="#2a2a2a"/>
<path d="M186 1123.2H1091.6" stroke-width="1" stroke="#2a2a2a"/>
<path d="M186 1199.4H1091.6" stroke-width="1" stroke="#2a2a2a"/>
<path d="M186 1275.6H1091.6" stroke-width="1" stroke="#2a2a2a"/>
<path d="M186.6 817.4V1336.7H1092.8" stroke-width="3.4"/>
<path d="M172.3 818.2H186" stroke-width="1.7"/>
<path d="M172.3 970.8H186" stroke-width="1.7"/>
<path d="M172.3 1123.2H186" stroke-width="1.7"/>
<path d="M172.3 1275.6H186" stroke-width="1.7"/>
<path d="M186.8 1337V1351.5" stroke-width="1.7"/>
<path d="M488.0 1337V1351.5" stroke-width="1.7"/>
<path d="M789.6 1337V1351.5" stroke-width="1.7"/>
<path d="M1091.6 1337V1351.5" stroke-width="1.7"/>
</g>
<text transform="translate(159.6 829.9) scale(1.040 1)" text-anchor="end" font-size="32.8" font-family="Liberation Sans, Arial, Helvetica, sans-serif">200</text>
<text transform="translate(159.6 982.5) scale(1.040 1)" text-anchor="end" font-size="32.8" font-family="Liberation Sans, Arial, Helvetica, sans-serif">150</text>
<text transform="translate(159.6 1134.9) scale(1.040 1)" text-anchor="end" font-size="32.8" font-family="Liberation Sans, Arial, Helvetica, sans-serif">100</text>
<text transform="translate(159.6 1287.3) scale(1.040 1)" text-anchor="end" font-size="32.8" font-family="Liberation Sans, Arial, Helvetica, sans-serif">50</text>
<text transform="translate(186.0 1389.0) scale(1.040 1)" text-anchor="middle" font-size="32.8" font-family="Liberation Sans, Arial, Helvetica, sans-serif">0</text>
<text transform="translate(487.2 1389.0) scale(1.040 1)" text-anchor="middle" font-size="32.8" font-family="Liberation Sans, Arial, Helvetica, sans-serif">80</text>
<text transform="translate(788.8 1389.0) scale(1.040 1)" text-anchor="middle" font-size="32.8" font-family="Liberation Sans, Arial, Helvetica, sans-serif">160</text>
<text transform="translate(1090.8 1389.0) scale(1.040 1)" text-anchor="middle" font-size="32.8" font-family="Liberation Sans, Arial, Helvetica, sans-serif">240</text>
<polyline points="635.0,876.3 642.5,867.4 648.3,869.2 654.0,870.4 661.1,876.8 666.9,878.0 673.1,879.3 684.1,884.2 691.7,889.6 703.2,894.5 710.3,881.6 714.7,896.6 721.8,881.6 725.3,890.4 732.7,893.1 737.2,873.1 744.4,900.2 751.9,892.7 755.9,909.4 759.8,893.1 766.9,889.6 774.9,888.7 785.5,886.9 789.6,873.6 796.1,903.7 805.0,860.9 808.5,905.1 815.9,919.6 821.8,924.1 828.0,926.7 832.7,932.3 839.3,931.8 842.6,915.8 849.9,912.4 855.9,913.1 863.2,917.1 872.5,915.1 876.5,925.0 880.2,945.6 883.8,930.4 887.1,919.7 895.0,907.8 903.0,921.1 906.3,905.8 911.0,911.8 913.9,895.2 922.9,909.1 928.9,890.5 932.2,910.4 933.5,925.7 936.9,895.8 940.8,954.9 945.5,935.7 948.8,942.0 952.1,948.9 954.8,934.3 957.5,943.0 960.0,936.5 962.7,923.7 964.6,938.0 966.7,942.3 970.7,897.8 974.1,994.6 977.8,1013.9 982.0,1065.1 985.3,1144.2 989.5,1150.4 993.2,1130.6 998.1,1147.9 1001.3,1136.1 1004.8,1178.1 1009.2,1181.8 1012.9,1179.3 1015.9,1214.0 1019.6,1260.4 1027.0,1248.1 1022.8,1274.0 1030.3,1285.2 1035.2,1290.1 1038.4,1297.5 1043.9,1296.8 1047.6,1292.6 1050.5,1285.2 1053.3,1268.6 1056.7,1256.7 1060.4,1251.3 1063.6,1245.6 1066.1,1243.9 1068.6,1228.3" fill="none" stroke="#000" stroke-width="3"/>
<g fill="#000"><rect x="629.0" y="870.3" width="12" height="12"/><rect x="636.5" y="861.4" width="12" height="12"/><rect x="642.3" y="863.2" width="12" height="12"/><rect x="648.0" y="864.4" width="12" height="12"/><rect x="655.1" y="870.8" width="12" height="12"/><rect x="660.9" y="872.0" width="12" height="12"/><rect x="667.1" y="873.3" width="12" height="12"/><rect x="678.1" y="878.2" width="12" height="12"/><rect x="685.7" y="883.6" width="12" height="12"/><rect x="697.2" y="888.5" width="12" height="12"/><rect x="704.3" y="875.6" width="12" height="12"/><rect x="708.7" y="890.6" width="12" height="12"/><rect x="715.8" y="875.6" width="12" height="12"/><rect x="719.3" y="884.4" width="12" height="12"/><rect x="726.7" y="887.1" width="12" height="12"/><rect x="731.2" y="867.1" width="12" height="12"/><rect x="738.4" y="894.2" width="12" height="12"/><rect x="745.9" y="886.7" width="12" height="12"/><rect x="749.9" y="903.4" width="12" height="12"/><rect x="753.8" y="887.1" width="12" height="12"/><rect x="760.9" y="883.6" width="12" height="12"/><rect x="768.9" y="882.7" width="12" height="12"/><rect x="779.5" y="880.9" width="12" height="12"/><rect x="783.6" y="867.6" width="12" height="12"/><rect x="790.1" y="897.7" width="12" height="12"/><rect x="799.0" y="854.9" width="12" height="12"/><rect x="802.5" y="899.1" width="12" height="12"/><rect x="809.9" y="913.6" width="12" height="12"/><rect x="815.8" y="918.1" width="12" height="12"/><rect x="822.0" y="920.7" width="12" height="12"/><rect x="826.7" y="926.3" width="12" height="12"/><rect x="833.3" y="925.8" width="12" height="12"/><rect x="836.6" y="909.8" width="12" height="12"/><rect x="843.9" y="906.4" width="12" height="12"/><rect x="849.9" y="907.1" width="12" height="12"/><rect x="857.2" y="911.1" width="12" height="12"/><rect x="866.5" y="909.1" width="12" height="12"/><rect x="870.5" y="919.0" width="12" height="12"/><rect x="874.2" y="939.6" width="12" height="12"/><rect x="877.8" y="924.4" width="12" height="12"/><rect x="881.1" y="913.7" width="12" height="12"/><rect x="889.0" y="901.8" width="12" height="12"/><rect x="897.0" y="915.1" width="12" height="12"/><rect x="900.3" y="899.8" width="12" height="12"/><rect x="905.0" y="905.8" width="12" height="12"/><rect x="907.9" y="889.2" width="12" height="12"/><rect x="916.9" y="903.1" width="12" height="12"/><rect x="922.9" y="884.5" width="12" height="12"/><rect x="926.2" y="904.4" width="12" height="12"/><rect x="927.5" y="919.7" width="12" height="12"/><rect x="930.9" y="889.8" width="12" height="12"/><rect x="934.8" y="948.9" width="12" height="12"/><rect x="939.5" y="929.7" width="12" height="12"/><rect x="942.8" y="936.0" width="12" height="12"/><rect x="946.1" y="942.9" width="12" height="12"/><rect x="948.8" y="928.3" width="12" height="12"/><rect x="951.5" y="937.0" width="12" height="12"/><rect x="954.0" y="930.5" width="12" height="12"/><rect x="956.7" y="917.7" width="12" height="12"/><rect x="958.6" y="932.0" width="12" height="12"/><rect x="960.7" y="936.3" width="12" height="12"/><rect x="964.7" y="891.8" width="12" height="12"/><rect x="968.1" y="988.6" width="12" height="12"/><rect x="971.8" y="1007.9" width="12" height="12"/><rect x="976.0" y="1059.1" width="12" height="12"/><rect x="979.3" y="1138.2" width="12" height="12"/><rect x="983.5" y="1144.4" width="12" height="12"/><rect x="987.2" y="1124.6" width="12" height="12"/><rect x="992.1" y="1141.9" width="12" height="12"/><rect x="995.3" y="1130.1" width="12" height="12"/><rect x="998.8" y="1172.1" width="12" height="12"/><rect x="1003.2" y="1175.8" width="12" height="12"/><rect x="1006.9" y="1173.3" width="12" height="12"/><rect x="1009.9" y="1208.0" width="12" height="12"/><rect x="1013.6" y="1254.4" width="12" height="12"/><rect x="1021.0" y="1242.1" width="12" height="12"/><rect x="1016.8" y="1268.0" width="12" height="12"/><rect x="1024.3" y="1279.2" width="12" height="12"/><rect x="1029.2" y="1284.1" width="12" height="12"/><rect x="1032.4" y="1291.5" width="12" height="12"/><rect x="1037.9" y="1290.8" width="12" height="12"/><rect x="1041.6" y="1286.6" width="12" height="12"/><rect x="1044.5" y="1279.2" width="12" height="12"/><rect x="1047.3" y="1262.6" width="12" height="12"/><rect x="1050.7" y="1250.7" width="12" height="12"/><rect x="1054.4" y="1245.3" width="12" height="12"/><rect x="1057.6" y="1239.6" width="12" height="12"/><rect x="1060.1" y="1237.9" width="12" height="12"/><rect x="1062.6" y="1222.3" width="12" height="12"/></g>
<rect x="1172.2" y="57.8" width="34.6" height="690.6" fill="url(#cbg)" stroke="#000" stroke-width="2.8"/>
<g stroke="#000" stroke-width="1.3">
<path d="M1172 58.0H1220.6"/>
<path d="M1172 173.2H1220.6"/>
<path d="M1172 288.4H1220.6"/>
<path d="M1172 403.6H1220.6"/>
<path d="M1172 519.0H1220.6"/>
<path d="M1172 633.8H1220.6"/>
<path d="M1172 748.4H1220.6"/>
</g>
<text transform="translate(1288.7 69.7) scale(1.040 1)" text-anchor="end" font-size="32.8" font-family="Liberation Sans, Arial, Helvetica, sans-serif">310</text>
<text transform="translate(1288.7 184.9) scale(1.040 1)" text-anchor="end" font-size="32.8" font-family="Liberation Sans, Arial, Helvetica, sans-serif">230</text>
<text transform="translate(1288.7 300.1) scale(1.040 1)" text-anchor="end" font-size="32.8" font-family="Liberation Sans, Arial, Helvetica, sans-serif">190</text>
<text transform="translate(1288.7 415.3) scale(1.040 1)" text-anchor="end" font-size="32.8" font-family="Liberation Sans, Arial, Helvetica, sans-serif">150</text>
<text transform="translate(1288.7 530.7) scale(1.040 1)" text-anchor="end" font-size="32.8" font-family="Liberation Sans, Arial, Helvetica, sans-serif">110</text>
<text transform="translate(1288.7 645.5) scale(1.040 1)" text-anchor="end" font-size="32.8" font-family="Liberation Sans, Arial, Helvetica, sans-serif">70</text>
<text transform="translate(1288.7 760.1) scale(1.040 1)" text-anchor="end" font-size="32.8" font-family="Liberation Sans, Arial, Helvetica, sans-serif">30</text>
<text transform="translate(72.8 388.7) rotate(-90) scale(0.978 1)" text-anchor="middle" font-size="40.0" font-family="Liberation Sans, Arial, Helvetica, sans-serif">Water-depth [m]</text>
<text transform="translate(73.2 1078.5) rotate(-90) scale(0.958 1)" text-anchor="middle" font-size="40.0" font-family="Liberation Sans, Arial, Helvetica, sans-serif">Oxygen [µM]</text>
<text transform="translate(1346.0 415.5) rotate(-90) scale(0.958 1)" text-anchor="middle" font-size="40.0" font-family="Liberation Sans, Arial, Helvetica, sans-serif">Oxygen [µM]</text>
<text transform="translate(639.2 1444.0) scale(0.966 1)" text-anchor="middle" font-size="40.0" font-family="Liberation Sans, Arial, Helvetica, sans-serif">Distance [km]</text>
<text transform="translate(18.2 43.0) scale(1.090 1)" text-anchor="start" font-size="31.8" font-weight="bold" font-family="Liberation Sans, Arial, Helvetica, sans-serif">A</text>
<text transform="translate(15.4 845.3) scale(1.090 1)" text-anchor="start" font-size="31.8" font-weight="bold" font-family="Liberation Sans, Arial, Helvetica, sans-serif">B</text>
</svg>
</body></html>
